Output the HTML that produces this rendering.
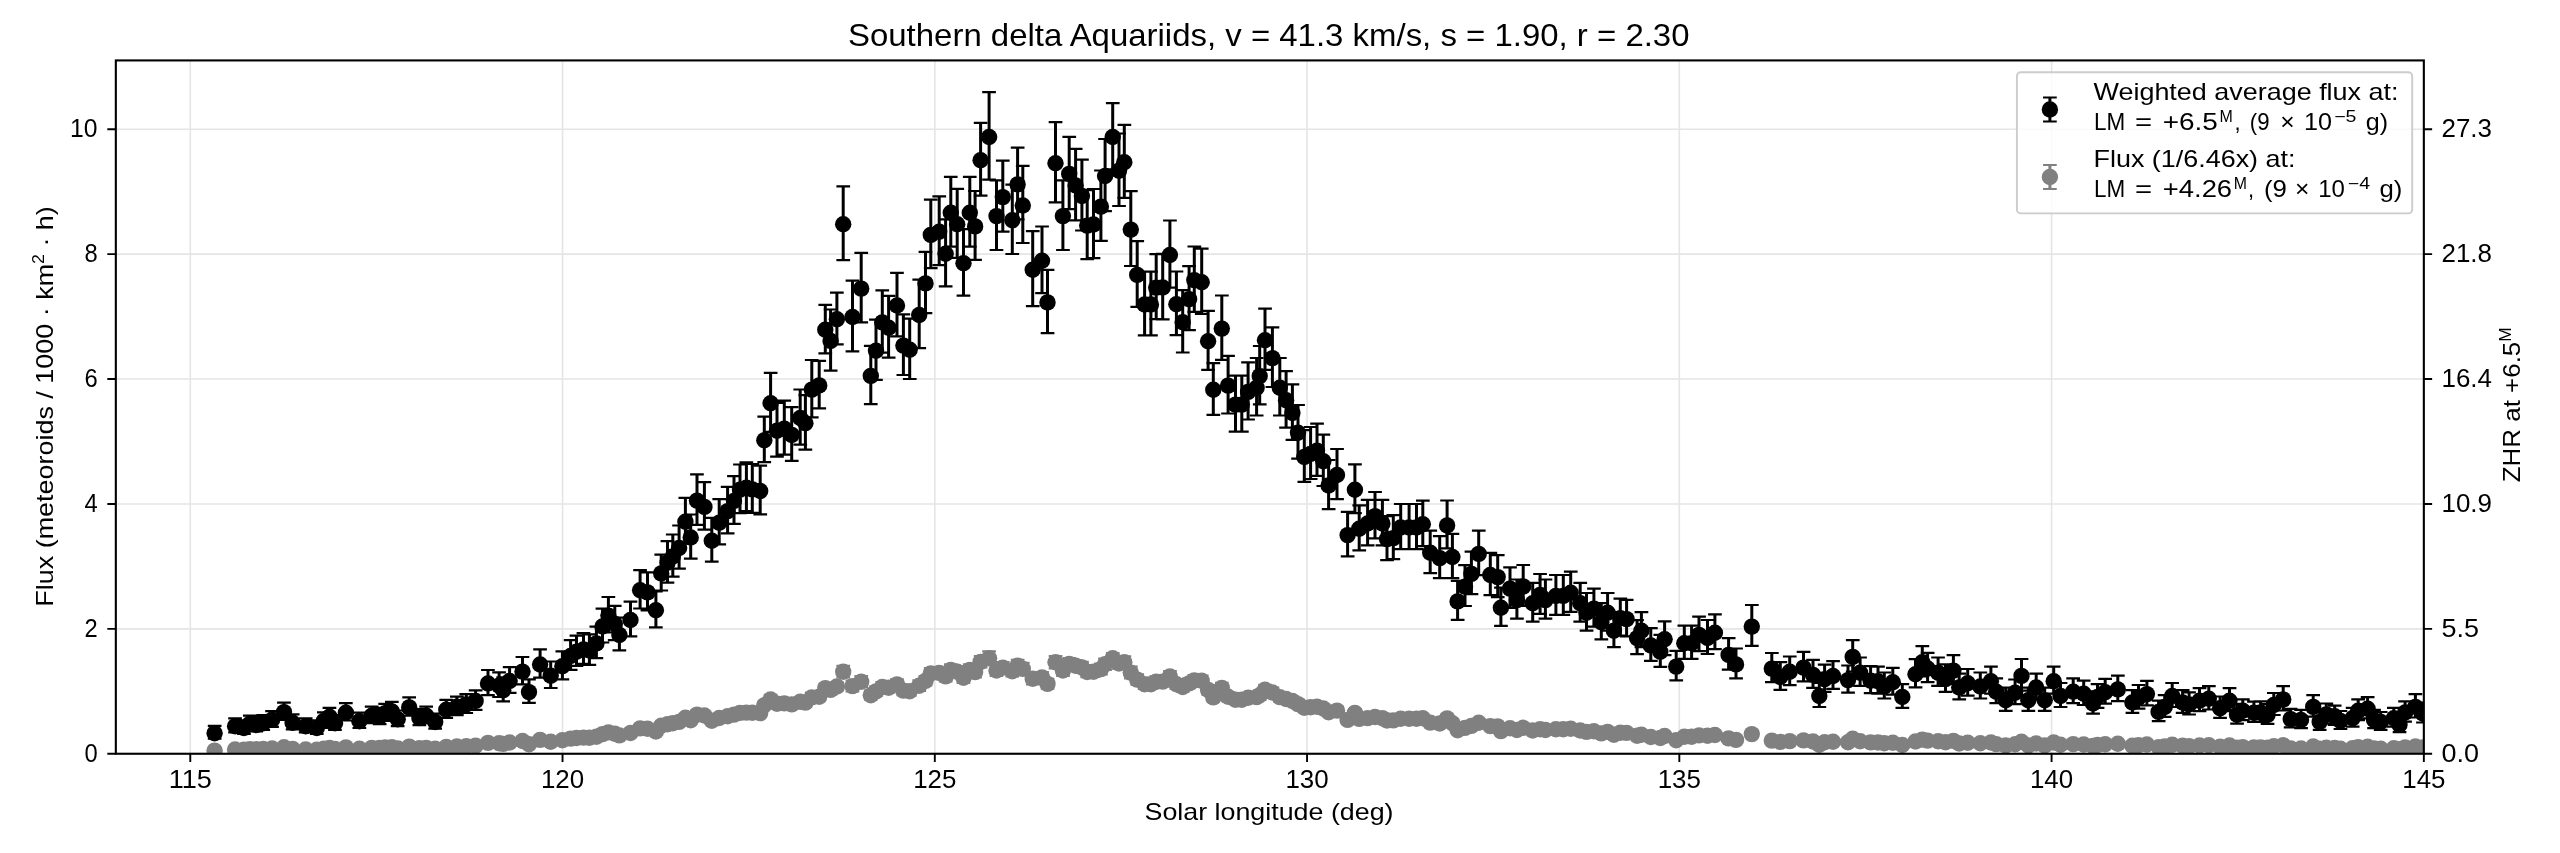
<!DOCTYPE html>
<html><head><meta charset="utf-8"><style>html,body{margin:0;padding:0;background:#fff;overflow:hidden}svg{display:block}text{-webkit-font-smoothing:antialiased}</style></head><body>
<svg width="2560" height="853" viewBox="0 0 2560 853" style="will-change:transform">
<rect width="2560" height="853" fill="#fff"/>
<defs><clipPath id="ax"><rect x="115.83" y="60.43" width="2308.0" height="693.32"/></clipPath></defs>
<path d="M190.28 60.43V753.75M562.54 60.43V753.75M934.80 60.43V753.75M1307.06 60.43V753.75M1679.32 60.43V753.75M2051.58 60.43V753.75M2423.84 60.43V753.75M115.83 753.75H2423.83M115.83 628.85H2423.83M115.83 503.95H2423.83M115.83 379.06H2423.83M115.83 254.16H2423.83M115.83 129.26H2423.83" stroke="#e5e5e5" stroke-width="1.6" fill="none"/>
<g clip-path="url(#ax)"><path d="M214.6 725.9V738.7M235.1 718.3V732.4M243.9 720.3V734.0M249.8 715.7V730.4M256.2 716.9V731.4M263.3 715.0V729.9M272.1 711.1V726.8M284.0 702.6V719.9M292.6 714.4V729.3M305.7 718.3V732.4M316.8 720.3V734.0M323.9 712.4V727.8M329.5 707.8V724.1M335.0 715.0V729.9M345.9 703.2V720.5M359.4 712.7V728.0M371.7 706.6V723.1M379.6 707.8V724.1M385.2 703.9V721.0M391.9 701.9V719.4M397.7 710.5V726.2M409.2 697.4V715.7M419.4 709.1V725.2M426.2 706.6V723.1M435.2 713.6V728.7M446.3 699.9V717.8M456.9 696.7V715.2M466.3 694.1V713.0M475.6 690.3V709.8M488.0 670.0V695.1M499.1 672.3V697.0M503.2 677.4V701.3M509.6 667.2V692.9M522.5 657.0V684.3M529.0 679.4V702.9M540.1 649.4V677.7M550.7 661.5V688.0M562.4 651.3V679.4M570.6 640.2V669.9M576.5 635.6V665.9M583.5 633.2V663.9M589.4 634.3V664.8M596.4 626.7V658.2M602.5 608.6V642.5M608.4 597.0V632.3M614.8 605.9V640.2M619.4 617.7V650.4M630.5 601.7V636.4M640.1 570.2V608.5M647.5 572.4V610.5M655.9 591.4V627.3M661.2 554.6V590.5M667.5 541.1V582.6M672.8 534.5V576.6M679.1 525.5V568.6M685.4 497.9V543.6M690.7 514.5V558.6M697.0 474.3V524.9M704.4 482.2V529.7M711.8 517.8V561.7M719.2 499.1V544.4M727.6 486.9V533.4M734.0 476.2V523.9M740.0 464.5V513.2M746.4 462.3V511.2M752.3 464.0V512.9M760.2 465.7V514.4M764.3 416.7V462.1M770.6 372.8V431.8M777.0 402.8V456.7M784.3 400.6V454.7M791.7 407.1V460.8M800.2 389.5V444.6M805.4 395.1V449.6M811.8 360.0V417.3M819.2 360.9V408.3M825.3 304.8V353.3M830.6 309.5V370.6M836.9 292.6V344.3M843.2 186.4V260.1M852.5 280.6V351.3M861.2 252.8V322.4M870.8 345.8V404.1M876.0 319.6V379.9M882.3 290.3V352.6M888.6 295.8V357.7M897.0 272.8V336.3M903.4 314.3V375.0M909.7 318.7V379.0M919.2 279.7V348.2M925.5 251.9V313.1M930.8 199.7V268.2M939.2 196.4V265.1M945.6 219.3V286.4M950.8 176.8V246.7M957.2 188.8V257.9M963.5 229.1V295.6M969.8 176.8V246.7M975.1 191.0V259.9M980.6 122.8V195.7M989.1 92.2V179.6M996.5 180.3V250.0M1002.8 160.7V231.6M1012.3 184.7V254.0M1017.6 147.6V219.3M1022.8 165.9V243.0M1032.7 231.2V306.1M1042.0 226.5V293.2M1047.5 269.8V333.1M1055.5 122.2V202.3M1062.9 180.3V250.0M1069.2 136.8V209.1M1075.6 148.8V220.3M1081.9 159.6V230.5M1087.2 190.1V259.2M1093.5 189.0V258.1M1100.9 170.5V240.8M1105.1 139.0V211.1M1112.7 103.1V169.3M1119.0 133.5V206.0M1124.3 124.8V197.9M1130.8 191.1V266.0M1137.2 241.1V306.8M1144.6 271.7V335.4M1150.9 271.7V335.4M1156.2 254.2V319.1M1162.7 253.8V319.3M1169.9 220.5V287.6M1176.4 271.5V335.2M1182.7 290.2V352.5M1189.1 266.1V330.2M1194.3 246.5V311.8M1201.7 248.6V313.9M1208.1 310.8V369.9M1213.3 363.1V414.8M1221.8 295.5V359.8M1228.1 355.8V413.5M1235.5 375.6V431.7M1241.8 375.6V431.7M1248.1 362.4V419.5M1256.6 358.0V415.5M1259.7 346.0V404.3M1265.0 308.7V369.8M1272.4 327.3V387.0M1279.8 358.0V415.5M1286.1 371.1V427.6M1292.4 384.3V439.8M1298.0 405.0V458.7M1304.3 430.2V481.9M1310.6 427.0V479.0M1317.0 423.6V475.9M1323.3 434.7V486.0M1328.6 460.0V509.1M1337.0 449.0V499.1M1347.6 511.9V556.4M1354.9 464.4V513.1M1359.2 505.3V550.4M1367.6 499.8V545.3M1375.0 492.0V538.3M1382.4 499.8V545.3M1387.0 516.2V560.1M1393.3 515.1V559.2M1400.7 504.0V549.1M1409.1 504.0V549.1M1416.5 504.0V549.1M1422.8 500.6V546.1M1430.2 530.6V573.1M1439.7 536.1V578.2M1447.1 500.5V548.3M1452.4 533.8V578.2M1457.6 580.9V619.9M1465.0 565.2V606.0M1471.4 551.7V594.1M1478.7 530.6V575.2M1490.3 552.9V595.1M1497.7 555.1V597.1M1500.9 587.6V625.8M1510.0 567.3V607.9M1516.9 579.5V618.7M1523.2 565.0V605.8M1532.7 582.9V621.7M1540.1 574.0V613.8M1545.4 579.5V618.7M1555.9 575.0V614.8M1563.3 575.0V614.8M1570.7 571.6V611.8M1580.2 582.9V621.7M1586.5 593.0V630.6M1593.9 588.6V626.6M1601.3 603.2V639.4M1607.6 593.0V630.6M1613.9 612.2V647.2M1620.3 598.7V635.5M1626.6 599.8V636.4M1637.1 620.1V654.1M1641.4 612.2V647.2M1650.8 628.1V660.9M1660.3 634.8V666.8M1664.6 621.3V655.1M1676.2 650.8V680.4M1684.3 625.7V658.9M1691.6 625.7V658.9M1699.0 616.7V651.1M1707.5 620.0V654.0M1714.9 614.3V649.1M1728.6 638.2V669.6M1736.0 648.5V678.3M1751.8 605.0V645.9M1771.8 653.0V682.2M1780.3 662.2V689.8M1789.7 656.5V685.1M1803.5 651.9V681.3M1813.0 659.9V687.9M1819.3 683.0V707.0M1824.6 664.6V691.8M1833.0 661.1V688.9M1848.0 665.5V692.7M1852.7 640.1V671.7M1860.1 657.5V685.9M1870.6 666.2V693.2M1878.0 666.7V693.7M1884.3 672.5V698.5M1892.8 667.8V694.6M1902.3 684.1V707.9M1915.5 659.2V687.4M1922.3 646.1V676.3M1927.6 652.9V682.1M1938.1 657.5V685.9M1945.5 664.4V691.8M1953.4 655.2V684.0M1959.2 673.6V699.4M1967.7 669.0V695.6M1980.3 672.5V698.5M1990.9 666.7V693.7M1996.2 678.3V703.2M2005.7 687.6V710.8M2015.1 679.5V704.1M2021.5 659.0V690.6M2028.3 687.6V710.8M2036.2 673.6V699.4M2044.7 687.6V710.8M2053.7 666.7V693.7M2060.5 683.0V707.0M2073.2 678.3V703.2M2083.7 680.6V705.0M2093.0 691.3V713.7M2097.5 684.1V707.9M2105.2 678.8V703.6M2117.8 675.7V701.1M2132.4 690.2V712.8M2138.5 685.0V708.6M2146.9 680.9V705.3M2158.6 700.7V721.1M2164.7 695.2V716.8M2172.2 683.0V707.0M2182.6 690.2V712.8M2189.1 692.3V714.5M2199.5 688.2V711.2M2208.8 686.1V709.5M2220.1 696.5V717.9M2229.5 688.2V711.2M2237.0 703.8V723.6M2242.8 699.3V720.1M2253.9 701.6V721.8M2260.6 701.3V721.7M2267.5 704.2V723.8M2273.8 693.0V715.0M2283.2 686.2V710.5M2290.7 708.8V727.4M2301.0 709.8V728.2M2313.2 695.1V716.7M2319.7 712.0V729.8M2326.3 703.5V723.3M2334.7 705.6V725.0M2340.4 711.0V729.0M2352.6 707.8V726.6M2358.2 699.3V720.1M2367.6 697.2V718.4M2374.1 709.8V728.2M2380.7 712.0V729.8M2393.8 707.8V726.6M2399.5 715.2V732.2M2405.1 701.3V721.7M2415.4 694.1V717.5M2422.9 702.5V722.5" stroke="#000" stroke-width="3" fill="none"/><path d="M207.8 725.9h13.7M207.8 738.7h13.7M228.2 718.3h13.7M228.2 732.4h13.7M237.1 720.3h13.7M237.1 734.0h13.7M243.0 715.7h13.7M243.0 730.4h13.7M249.3 716.9h13.7M249.3 731.4h13.7M256.4 715.0h13.7M256.4 729.9h13.7M265.2 711.1h13.7M265.2 726.8h13.7M277.1 702.6h13.7M277.1 719.9h13.7M285.8 714.4h13.7M285.8 729.3h13.7M298.8 718.3h13.7M298.8 732.4h13.7M309.9 720.3h13.7M309.9 734.0h13.7M317.0 712.4h13.7M317.0 727.8h13.7M322.6 707.8h13.7M322.6 724.1h13.7M328.1 715.0h13.7M328.1 729.9h13.7M339.0 703.2h13.7M339.0 720.5h13.7M352.5 712.7h13.7M352.5 728.0h13.7M364.8 706.6h13.7M364.8 723.1h13.7M372.8 707.8h13.7M372.8 724.1h13.7M378.3 703.9h13.7M378.3 721.0h13.7M385.0 701.9h13.7M385.0 719.4h13.7M390.8 710.5h13.7M390.8 726.2h13.7M402.3 697.4h13.7M402.3 715.7h13.7M412.5 709.1h13.7M412.5 725.2h13.7M419.3 706.6h13.7M419.3 723.1h13.7M428.3 713.6h13.7M428.3 728.7h13.7M439.4 699.9h13.7M439.4 717.8h13.7M450.0 696.7h13.7M450.0 715.2h13.7M459.4 694.1h13.7M459.4 713.0h13.7M468.8 690.3h13.7M468.8 709.8h13.7M481.1 670.0h13.7M481.1 695.1h13.7M492.2 672.3h13.7M492.2 697.0h13.7M496.3 677.4h13.7M496.3 701.3h13.7M502.8 667.2h13.7M502.8 692.9h13.7M515.6 657.0h13.7M515.6 684.3h13.7M522.1 679.4h13.7M522.1 702.9h13.7M533.2 649.4h13.7M533.2 677.7h13.7M543.9 661.5h13.7M543.9 688.0h13.7M555.5 651.3h13.7M555.5 679.4h13.7M563.8 640.2h13.7M563.8 669.9h13.7M569.6 635.6h13.7M569.6 665.9h13.7M576.6 633.2h13.7M576.6 663.9h13.7M582.5 634.3h13.7M582.5 664.8h13.7M589.5 626.7h13.7M589.5 658.2h13.7M595.6 608.6h13.7M595.6 642.5h13.7M601.5 597.0h13.7M601.5 632.3h13.7M607.9 605.9h13.7M607.9 640.2h13.7M612.5 617.7h13.7M612.5 650.4h13.7M623.6 601.7h13.7M623.6 636.4h13.7M633.2 570.2h13.7M633.2 608.5h13.7M640.6 572.4h13.7M640.6 610.5h13.7M649.0 591.4h13.7M649.0 627.3h13.7M654.4 554.6h13.7M654.4 590.5h13.7M660.6 541.1h13.7M660.6 582.6h13.7M665.9 534.5h13.7M665.9 576.6h13.7M672.2 525.5h13.7M672.2 568.6h13.7M678.5 497.9h13.7M678.5 543.6h13.7M683.9 514.5h13.7M683.9 558.6h13.7M690.1 474.3h13.7M690.1 524.9h13.7M697.5 482.2h13.7M697.5 529.7h13.7M704.9 517.8h13.7M704.9 561.7h13.7M712.4 499.1h13.7M712.4 544.4h13.7M720.8 486.9h13.7M720.8 533.4h13.7M727.1 476.2h13.7M727.1 523.9h13.7M733.1 464.5h13.7M733.1 513.2h13.7M739.5 462.3h13.7M739.5 511.2h13.7M745.4 464.0h13.7M745.4 512.9h13.7M753.4 465.7h13.7M753.4 514.4h13.7M757.4 416.7h13.7M757.4 462.1h13.7M763.8 372.8h13.7M763.8 431.8h13.7M770.1 402.8h13.7M770.1 456.7h13.7M777.4 400.6h13.7M777.4 454.7h13.7M784.9 407.1h13.7M784.9 460.8h13.7M793.4 389.5h13.7M793.4 444.6h13.7M798.5 395.1h13.7M798.5 449.6h13.7M804.9 360.0h13.7M804.9 417.3h13.7M812.4 360.9h13.7M812.4 408.3h13.7M818.4 304.8h13.7M818.4 353.3h13.7M823.8 309.5h13.7M823.8 370.6h13.7M830.0 292.6h13.7M830.0 344.3h13.7M836.4 186.4h13.7M836.4 260.1h13.7M845.6 280.6h13.7M845.6 351.3h13.7M854.4 252.8h13.7M854.4 322.4h13.7M863.9 345.8h13.7M863.9 404.1h13.7M869.1 319.6h13.7M869.1 379.9h13.7M875.4 290.3h13.7M875.4 352.6h13.7M881.8 295.8h13.7M881.8 357.7h13.7M890.1 272.8h13.7M890.1 336.3h13.7M896.5 314.3h13.7M896.5 375.0h13.7M902.9 318.7h13.7M902.9 379.0h13.7M912.4 279.7h13.7M912.4 348.2h13.7M918.6 251.9h13.7M918.6 313.1h13.7M923.9 199.7h13.7M923.9 268.2h13.7M932.4 196.4h13.7M932.4 265.1h13.7M938.8 219.3h13.7M938.8 286.4h13.7M943.9 176.8h13.7M943.9 246.7h13.7M950.4 188.8h13.7M950.4 257.9h13.7M956.6 229.1h13.7M956.6 295.6h13.7M962.9 176.8h13.7M962.9 246.7h13.7M968.2 191.0h13.7M968.2 259.9h13.7M973.8 122.8h13.7M973.8 195.7h13.7M982.2 92.2h13.7M982.2 179.6h13.7M989.6 180.3h13.7M989.6 250.0h13.7M995.9 160.7h13.7M995.9 231.6h13.7M1005.4 184.7h13.7M1005.4 254.0h13.7M1010.8 147.6h13.7M1010.8 219.3h13.7M1015.9 165.9h13.7M1015.9 243.0h13.7M1025.9 231.2h13.7M1025.9 306.1h13.7M1035.2 226.5h13.7M1035.2 293.2h13.7M1040.7 269.8h13.7M1040.7 333.1h13.7M1048.7 122.2h13.7M1048.7 202.3h13.7M1056.1 180.3h13.7M1056.1 250.0h13.7M1062.4 136.8h13.7M1062.4 209.1h13.7M1068.8 148.8h13.7M1068.8 220.3h13.7M1075.1 159.6h13.7M1075.1 230.5h13.7M1080.4 190.1h13.7M1080.4 259.2h13.7M1086.7 189.0h13.7M1086.7 258.1h13.7M1094.1 170.5h13.7M1094.1 240.8h13.7M1098.2 139.0h13.7M1098.2 211.1h13.7M1105.9 103.1h13.7M1105.9 169.3h13.7M1112.2 133.5h13.7M1112.2 206.0h13.7M1117.5 124.8h13.7M1117.5 197.9h13.7M1124.0 191.1h13.7M1124.0 266.0h13.7M1130.4 241.1h13.7M1130.4 306.8h13.7M1137.8 271.7h13.7M1137.8 335.4h13.7M1144.1 271.7h13.7M1144.1 335.4h13.7M1149.4 254.2h13.7M1149.4 319.1h13.7M1155.9 253.8h13.7M1155.9 319.3h13.7M1163.1 220.5h13.7M1163.1 287.6h13.7M1169.6 271.5h13.7M1169.6 335.2h13.7M1175.9 290.2h13.7M1175.9 352.5h13.7M1182.2 266.1h13.7M1182.2 330.2h13.7M1187.5 246.5h13.7M1187.5 311.8h13.7M1194.9 248.6h13.7M1194.9 313.9h13.7M1201.2 310.8h13.7M1201.2 369.9h13.7M1206.5 363.1h13.7M1206.5 414.8h13.7M1215.0 295.5h13.7M1215.0 359.8h13.7M1221.2 355.8h13.7M1221.2 413.5h13.7M1228.7 375.6h13.7M1228.7 431.7h13.7M1235.0 375.6h13.7M1235.0 431.7h13.7M1241.2 362.4h13.7M1241.2 419.5h13.7M1249.8 358.0h13.7M1249.8 415.5h13.7M1252.9 346.0h13.7M1252.9 404.3h13.7M1258.2 308.7h13.7M1258.2 369.8h13.7M1265.6 327.3h13.7M1265.6 387.0h13.7M1273.0 358.0h13.7M1273.0 415.5h13.7M1279.2 371.1h13.7M1279.2 427.6h13.7M1285.6 384.3h13.7M1285.6 439.8h13.7M1291.2 405.0h13.7M1291.2 458.7h13.7M1297.5 430.2h13.7M1297.5 481.9h13.7M1303.8 427.0h13.7M1303.8 479.0h13.7M1310.2 423.6h13.7M1310.2 475.9h13.7M1316.5 434.7h13.7M1316.5 486.0h13.7M1321.8 460.0h13.7M1321.8 509.1h13.7M1330.2 449.0h13.7M1330.2 499.1h13.7M1340.8 511.9h13.7M1340.8 556.4h13.7M1348.1 464.4h13.7M1348.1 513.1h13.7M1352.4 505.3h13.7M1352.4 550.4h13.7M1360.8 499.8h13.7M1360.8 545.3h13.7M1368.2 492.0h13.7M1368.2 538.3h13.7M1375.6 499.8h13.7M1375.6 545.3h13.7M1380.2 516.2h13.7M1380.2 560.1h13.7M1386.5 515.1h13.7M1386.5 559.2h13.7M1393.9 504.0h13.7M1393.9 549.1h13.7M1402.2 504.0h13.7M1402.2 549.1h13.7M1409.7 504.0h13.7M1409.7 549.1h13.7M1416.0 500.6h13.7M1416.0 546.1h13.7M1423.4 530.6h13.7M1423.4 573.1h13.7M1432.9 536.1h13.7M1432.9 578.2h13.7M1440.2 500.5h13.7M1440.2 548.3h13.7M1445.6 533.8h13.7M1445.6 578.2h13.7M1450.8 580.9h13.7M1450.8 619.9h13.7M1458.2 565.2h13.7M1458.2 606.0h13.7M1464.6 551.7h13.7M1464.6 594.1h13.7M1471.9 530.6h13.7M1471.9 575.2h13.7M1483.5 552.9h13.7M1483.5 595.1h13.7M1490.9 555.1h13.7M1490.9 597.1h13.7M1494.1 587.6h13.7M1494.1 625.8h13.7M1503.2 567.3h13.7M1503.2 607.9h13.7M1510.1 579.5h13.7M1510.1 618.7h13.7M1516.4 565.0h13.7M1516.4 605.8h13.7M1525.9 582.9h13.7M1525.9 621.7h13.7M1533.2 574.0h13.7M1533.2 613.8h13.7M1538.6 579.5h13.7M1538.6 618.7h13.7M1549.1 575.0h13.7M1549.1 614.8h13.7M1556.5 575.0h13.7M1556.5 614.8h13.7M1563.9 571.6h13.7M1563.9 611.8h13.7M1573.4 582.9h13.7M1573.4 621.7h13.7M1579.7 593.0h13.7M1579.7 630.6h13.7M1587.1 588.6h13.7M1587.1 626.6h13.7M1594.5 603.2h13.7M1594.5 639.4h13.7M1600.8 593.0h13.7M1600.8 630.6h13.7M1607.1 612.2h13.7M1607.1 647.2h13.7M1613.5 598.7h13.7M1613.5 635.5h13.7M1619.8 599.8h13.7M1619.8 636.4h13.7M1630.2 620.1h13.7M1630.2 654.1h13.7M1634.6 612.2h13.7M1634.6 647.2h13.7M1644.0 628.1h13.7M1644.0 660.9h13.7M1653.5 634.8h13.7M1653.5 666.8h13.7M1657.8 621.3h13.7M1657.8 655.1h13.7M1669.4 650.8h13.7M1669.4 680.4h13.7M1677.5 625.7h13.7M1677.5 658.9h13.7M1684.8 625.7h13.7M1684.8 658.9h13.7M1692.2 616.7h13.7M1692.2 651.1h13.7M1700.7 620.0h13.7M1700.7 654.0h13.7M1708.1 614.3h13.7M1708.1 649.1h13.7M1721.8 638.2h13.7M1721.8 669.6h13.7M1729.2 648.5h13.7M1729.2 678.3h13.7M1745.0 605.0h13.7M1745.0 645.9h13.7M1765.0 653.0h13.7M1765.0 682.2h13.7M1773.5 662.2h13.7M1773.5 689.8h13.7M1782.9 656.5h13.7M1782.9 685.1h13.7M1796.7 651.9h13.7M1796.7 681.3h13.7M1806.2 659.9h13.7M1806.2 687.9h13.7M1812.5 683.0h13.7M1812.5 707.0h13.7M1817.8 664.6h13.7M1817.8 691.8h13.7M1826.2 661.1h13.7M1826.2 688.9h13.7M1841.2 665.5h13.7M1841.2 692.7h13.7M1845.9 640.1h13.7M1845.9 671.7h13.7M1853.2 657.5h13.7M1853.2 685.9h13.7M1863.8 666.2h13.7M1863.8 693.2h13.7M1871.2 666.7h13.7M1871.2 693.7h13.7M1877.5 672.5h13.7M1877.5 698.5h13.7M1886.0 667.8h13.7M1886.0 694.6h13.7M1895.5 684.1h13.7M1895.5 707.9h13.7M1908.7 659.2h13.7M1908.7 687.4h13.7M1915.5 646.1h13.7M1915.5 676.3h13.7M1920.8 652.9h13.7M1920.8 682.1h13.7M1931.2 657.5h13.7M1931.2 685.9h13.7M1938.7 664.4h13.7M1938.7 691.8h13.7M1946.6 655.2h13.7M1946.6 684.0h13.7M1952.4 673.6h13.7M1952.4 699.4h13.7M1960.9 669.0h13.7M1960.9 695.6h13.7M1973.5 672.5h13.7M1973.5 698.5h13.7M1984.1 666.7h13.7M1984.1 693.7h13.7M1989.4 678.3h13.7M1989.4 703.2h13.7M1998.9 687.6h13.7M1998.9 710.8h13.7M2008.2 679.5h13.7M2008.2 704.1h13.7M2014.7 659.0h13.7M2014.7 690.6h13.7M2021.5 687.6h13.7M2021.5 710.8h13.7M2029.4 673.6h13.7M2029.4 699.4h13.7M2037.9 687.6h13.7M2037.9 710.8h13.7M2046.8 666.7h13.7M2046.8 693.7h13.7M2053.7 683.0h13.7M2053.7 707.0h13.7M2066.3 678.3h13.7M2066.3 703.2h13.7M2076.8 680.6h13.7M2076.8 705.0h13.7M2086.2 691.3h13.7M2086.2 713.7h13.7M2090.7 684.1h13.7M2090.7 707.9h13.7M2098.3 678.8h13.7M2098.3 703.6h13.7M2111.0 675.7h13.7M2111.0 701.1h13.7M2125.6 690.2h13.7M2125.6 712.8h13.7M2131.7 685.0h13.7M2131.7 708.6h13.7M2140.1 680.9h13.7M2140.1 705.3h13.7M2151.8 700.7h13.7M2151.8 721.1h13.7M2157.8 695.2h13.7M2157.8 716.8h13.7M2165.3 683.0h13.7M2165.3 707.0h13.7M2175.8 690.2h13.7M2175.8 712.8h13.7M2182.2 692.3h13.7M2182.2 714.5h13.7M2192.7 688.2h13.7M2192.7 711.2h13.7M2202.0 686.1h13.7M2202.0 709.5h13.7M2213.2 696.5h13.7M2213.2 717.9h13.7M2222.7 688.2h13.7M2222.7 711.2h13.7M2230.2 703.8h13.7M2230.2 723.6h13.7M2236.0 699.3h13.7M2236.0 720.1h13.7M2247.1 701.6h13.7M2247.1 721.8h13.7M2253.8 701.3h13.7M2253.8 721.7h13.7M2260.7 704.2h13.7M2260.7 723.8h13.7M2267.0 693.0h13.7M2267.0 715.0h13.7M2276.3 686.2h13.7M2276.3 710.5h13.7M2283.8 708.8h13.7M2283.8 727.4h13.7M2294.2 709.8h13.7M2294.2 728.2h13.7M2306.3 695.1h13.7M2306.3 716.7h13.7M2312.8 712.0h13.7M2312.8 729.8h13.7M2319.5 703.5h13.7M2319.5 723.3h13.7M2327.8 705.6h13.7M2327.8 725.0h13.7M2333.6 711.0h13.7M2333.6 729.0h13.7M2345.8 707.8h13.7M2345.8 726.6h13.7M2351.3 699.3h13.7M2351.3 720.1h13.7M2360.8 697.2h13.7M2360.8 718.4h13.7M2367.2 709.8h13.7M2367.2 728.2h13.7M2373.8 712.0h13.7M2373.8 729.8h13.7M2387.0 707.8h13.7M2387.0 726.6h13.7M2392.7 715.2h13.7M2392.7 732.2h13.7M2398.2 701.3h13.7M2398.2 721.7h13.7M2408.6 694.1h13.7M2408.6 717.5h13.7M2416.1 702.5h13.7M2416.1 722.5h13.7" stroke="#000" stroke-width="2.2" fill="none"/><g fill="#000"><circle cx="214.6" cy="733.2" r="8.2"/><circle cx="235.1" cy="726.2" r="8.2"/><circle cx="243.9" cy="728.0" r="8.2"/><circle cx="249.8" cy="723.9" r="8.2"/><circle cx="256.2" cy="725.0" r="8.2"/><circle cx="263.3" cy="723.3" r="8.2"/><circle cx="272.1" cy="719.8" r="8.2"/><circle cx="284.0" cy="712.1" r="8.2"/><circle cx="292.6" cy="722.7" r="8.2"/><circle cx="305.7" cy="726.2" r="8.2"/><circle cx="316.8" cy="728.0" r="8.2"/><circle cx="323.9" cy="720.9" r="8.2"/><circle cx="329.5" cy="716.8" r="8.2"/><circle cx="335.0" cy="723.3" r="8.2"/><circle cx="345.9" cy="712.7" r="8.2"/><circle cx="359.4" cy="721.2" r="8.2"/><circle cx="371.7" cy="715.7" r="8.2"/><circle cx="379.6" cy="716.8" r="8.2"/><circle cx="385.2" cy="713.3" r="8.2"/><circle cx="391.9" cy="711.5" r="8.2"/><circle cx="397.7" cy="719.2" r="8.2"/><circle cx="409.2" cy="707.4" r="8.2"/><circle cx="419.4" cy="718.0" r="8.2"/><circle cx="426.2" cy="715.7" r="8.2"/><circle cx="435.2" cy="722.0" r="8.2"/><circle cx="446.3" cy="709.7" r="8.2"/><circle cx="456.9" cy="706.8" r="8.2"/><circle cx="466.3" cy="704.4" r="8.2"/><circle cx="475.6" cy="700.9" r="8.2"/><circle cx="488.0" cy="683.5" r="8.2"/><circle cx="499.1" cy="685.6" r="8.2"/><circle cx="503.2" cy="690.3" r="8.2"/><circle cx="509.6" cy="681.0" r="8.2"/><circle cx="522.5" cy="671.6" r="8.2"/><circle cx="529.0" cy="692.1" r="8.2"/><circle cx="540.1" cy="664.5" r="8.2"/><circle cx="550.7" cy="675.7" r="8.2"/><circle cx="562.4" cy="666.3" r="8.2"/><circle cx="570.6" cy="656.0" r="8.2"/><circle cx="576.5" cy="651.7" r="8.2"/><circle cx="583.5" cy="649.5" r="8.2"/><circle cx="589.4" cy="650.5" r="8.2"/><circle cx="596.4" cy="643.4" r="8.2"/><circle cx="602.5" cy="626.5" r="8.2"/><circle cx="608.4" cy="615.6" r="8.2"/><circle cx="614.8" cy="624.0" r="8.2"/><circle cx="619.4" cy="635.0" r="8.2"/><circle cx="630.5" cy="620.0" r="8.2"/><circle cx="640.1" cy="590.3" r="8.2"/><circle cx="647.5" cy="592.4" r="8.2"/><circle cx="655.9" cy="610.3" r="8.2"/><circle cx="661.2" cy="573.4" r="8.2"/><circle cx="667.5" cy="562.8" r="8.2"/><circle cx="672.8" cy="556.5" r="8.2"/><circle cx="679.1" cy="548.0" r="8.2"/><circle cx="685.4" cy="521.7" r="8.2"/><circle cx="690.7" cy="537.5" r="8.2"/><circle cx="697.0" cy="500.6" r="8.2"/><circle cx="704.4" cy="506.9" r="8.2"/><circle cx="711.8" cy="540.7" r="8.2"/><circle cx="719.2" cy="522.7" r="8.2"/><circle cx="727.6" cy="511.1" r="8.2"/><circle cx="734.0" cy="501.0" r="8.2"/><circle cx="740.0" cy="489.8" r="8.2"/><circle cx="746.4" cy="487.7" r="8.2"/><circle cx="752.3" cy="489.4" r="8.2"/><circle cx="760.2" cy="491.0" r="8.2"/><circle cx="764.3" cy="440.2" r="8.2"/><circle cx="770.6" cy="403.3" r="8.2"/><circle cx="777.0" cy="430.7" r="8.2"/><circle cx="784.3" cy="428.6" r="8.2"/><circle cx="791.7" cy="434.9" r="8.2"/><circle cx="800.2" cy="418.0" r="8.2"/><circle cx="805.4" cy="423.3" r="8.2"/><circle cx="811.8" cy="389.6" r="8.2"/><circle cx="819.2" cy="385.4" r="8.2"/><circle cx="825.3" cy="329.8" r="8.2"/><circle cx="830.6" cy="341.0" r="8.2"/><circle cx="836.9" cy="319.2" r="8.2"/><circle cx="843.2" cy="224.3" r="8.2"/><circle cx="852.5" cy="317.0" r="8.2"/><circle cx="861.2" cy="288.6" r="8.2"/><circle cx="870.8" cy="375.9" r="8.2"/><circle cx="876.0" cy="350.7" r="8.2"/><circle cx="882.3" cy="322.4" r="8.2"/><circle cx="888.6" cy="327.7" r="8.2"/><circle cx="897.0" cy="305.5" r="8.2"/><circle cx="903.4" cy="345.6" r="8.2"/><circle cx="909.7" cy="349.8" r="8.2"/><circle cx="919.2" cy="315.0" r="8.2"/><circle cx="925.5" cy="283.4" r="8.2"/><circle cx="930.8" cy="234.9" r="8.2"/><circle cx="939.2" cy="231.7" r="8.2"/><circle cx="945.6" cy="253.8" r="8.2"/><circle cx="950.8" cy="212.7" r="8.2"/><circle cx="957.2" cy="224.3" r="8.2"/><circle cx="963.5" cy="263.3" r="8.2"/><circle cx="969.8" cy="212.7" r="8.2"/><circle cx="975.1" cy="226.4" r="8.2"/><circle cx="980.6" cy="160.2" r="8.2"/><circle cx="989.1" cy="137.0" r="8.2"/><circle cx="996.5" cy="216.1" r="8.2"/><circle cx="1002.8" cy="197.1" r="8.2"/><circle cx="1012.3" cy="220.3" r="8.2"/><circle cx="1017.6" cy="184.4" r="8.2"/><circle cx="1022.8" cy="205.5" r="8.2"/><circle cx="1032.7" cy="269.7" r="8.2"/><circle cx="1042.0" cy="260.8" r="8.2"/><circle cx="1047.5" cy="302.4" r="8.2"/><circle cx="1055.5" cy="163.3" r="8.2"/><circle cx="1062.9" cy="216.1" r="8.2"/><circle cx="1069.2" cy="173.9" r="8.2"/><circle cx="1075.6" cy="185.5" r="8.2"/><circle cx="1081.9" cy="196.0" r="8.2"/><circle cx="1087.2" cy="225.6" r="8.2"/><circle cx="1093.5" cy="224.5" r="8.2"/><circle cx="1100.9" cy="206.6" r="8.2"/><circle cx="1105.1" cy="176.0" r="8.2"/><circle cx="1112.7" cy="137.0" r="8.2"/><circle cx="1119.0" cy="170.7" r="8.2"/><circle cx="1124.3" cy="162.3" r="8.2"/><circle cx="1130.8" cy="229.6" r="8.2"/><circle cx="1137.2" cy="274.9" r="8.2"/><circle cx="1144.6" cy="304.5" r="8.2"/><circle cx="1150.9" cy="304.5" r="8.2"/><circle cx="1156.2" cy="287.6" r="8.2"/><circle cx="1162.7" cy="287.5" r="8.2"/><circle cx="1169.9" cy="255.0" r="8.2"/><circle cx="1176.4" cy="304.3" r="8.2"/><circle cx="1182.7" cy="322.3" r="8.2"/><circle cx="1189.1" cy="299.1" r="8.2"/><circle cx="1194.3" cy="280.1" r="8.2"/><circle cx="1201.7" cy="282.2" r="8.2"/><circle cx="1208.1" cy="341.3" r="8.2"/><circle cx="1213.3" cy="389.8" r="8.2"/><circle cx="1221.8" cy="328.6" r="8.2"/><circle cx="1228.1" cy="385.6" r="8.2"/><circle cx="1235.5" cy="404.6" r="8.2"/><circle cx="1241.8" cy="404.6" r="8.2"/><circle cx="1248.1" cy="391.9" r="8.2"/><circle cx="1256.6" cy="387.7" r="8.2"/><circle cx="1259.7" cy="376.1" r="8.2"/><circle cx="1265.0" cy="340.2" r="8.2"/><circle cx="1272.4" cy="358.1" r="8.2"/><circle cx="1279.8" cy="387.7" r="8.2"/><circle cx="1286.1" cy="400.3" r="8.2"/><circle cx="1292.4" cy="413.0" r="8.2"/><circle cx="1298.0" cy="432.8" r="8.2"/><circle cx="1304.3" cy="457.0" r="8.2"/><circle cx="1310.6" cy="453.9" r="8.2"/><circle cx="1317.0" cy="450.7" r="8.2"/><circle cx="1323.3" cy="461.3" r="8.2"/><circle cx="1328.6" cy="485.5" r="8.2"/><circle cx="1337.0" cy="475.0" r="8.2"/><circle cx="1347.6" cy="535.1" r="8.2"/><circle cx="1354.9" cy="489.7" r="8.2"/><circle cx="1359.2" cy="528.8" r="8.2"/><circle cx="1367.6" cy="523.5" r="8.2"/><circle cx="1375.0" cy="516.1" r="8.2"/><circle cx="1382.4" cy="523.5" r="8.2"/><circle cx="1387.0" cy="539.1" r="8.2"/><circle cx="1393.3" cy="538.1" r="8.2"/><circle cx="1400.7" cy="527.5" r="8.2"/><circle cx="1409.1" cy="527.5" r="8.2"/><circle cx="1416.5" cy="527.5" r="8.2"/><circle cx="1422.8" cy="524.3" r="8.2"/><circle cx="1430.2" cy="552.8" r="8.2"/><circle cx="1439.7" cy="558.1" r="8.2"/><circle cx="1447.1" cy="525.4" r="8.2"/><circle cx="1452.4" cy="557.0" r="8.2"/><circle cx="1457.6" cy="601.4" r="8.2"/><circle cx="1465.0" cy="586.6" r="8.2"/><circle cx="1471.4" cy="573.9" r="8.2"/><circle cx="1478.7" cy="553.9" r="8.2"/><circle cx="1490.3" cy="575.0" r="8.2"/><circle cx="1497.7" cy="577.1" r="8.2"/><circle cx="1500.9" cy="607.7" r="8.2"/><circle cx="1510.0" cy="588.6" r="8.2"/><circle cx="1516.9" cy="600.1" r="8.2"/><circle cx="1523.2" cy="586.4" r="8.2"/><circle cx="1532.7" cy="603.3" r="8.2"/><circle cx="1540.1" cy="594.9" r="8.2"/><circle cx="1545.4" cy="600.1" r="8.2"/><circle cx="1555.9" cy="595.9" r="8.2"/><circle cx="1563.3" cy="595.9" r="8.2"/><circle cx="1570.7" cy="592.7" r="8.2"/><circle cx="1580.2" cy="603.3" r="8.2"/><circle cx="1586.5" cy="612.8" r="8.2"/><circle cx="1593.9" cy="608.6" r="8.2"/><circle cx="1601.3" cy="622.3" r="8.2"/><circle cx="1607.6" cy="612.8" r="8.2"/><circle cx="1613.9" cy="630.7" r="8.2"/><circle cx="1620.3" cy="618.1" r="8.2"/><circle cx="1626.6" cy="619.1" r="8.2"/><circle cx="1637.1" cy="638.1" r="8.2"/><circle cx="1641.4" cy="630.7" r="8.2"/><circle cx="1650.8" cy="645.5" r="8.2"/><circle cx="1660.3" cy="651.8" r="8.2"/><circle cx="1664.6" cy="639.2" r="8.2"/><circle cx="1676.2" cy="666.6" r="8.2"/><circle cx="1684.3" cy="643.3" r="8.2"/><circle cx="1691.6" cy="643.3" r="8.2"/><circle cx="1699.0" cy="634.9" r="8.2"/><circle cx="1707.5" cy="638.0" r="8.2"/><circle cx="1714.9" cy="632.7" r="8.2"/><circle cx="1728.6" cy="654.9" r="8.2"/><circle cx="1736.0" cy="664.4" r="8.2"/><circle cx="1751.8" cy="626.6" r="8.2"/><circle cx="1771.8" cy="668.6" r="8.2"/><circle cx="1780.3" cy="677.0" r="8.2"/><circle cx="1789.7" cy="671.8" r="8.2"/><circle cx="1803.5" cy="667.6" r="8.2"/><circle cx="1813.0" cy="674.9" r="8.2"/><circle cx="1819.3" cy="696.0" r="8.2"/><circle cx="1824.6" cy="679.2" r="8.2"/><circle cx="1833.0" cy="676.0" r="8.2"/><circle cx="1848.0" cy="680.1" r="8.2"/><circle cx="1852.7" cy="656.9" r="8.2"/><circle cx="1860.1" cy="672.7" r="8.2"/><circle cx="1870.6" cy="680.7" r="8.2"/><circle cx="1878.0" cy="681.2" r="8.2"/><circle cx="1884.3" cy="686.5" r="8.2"/><circle cx="1892.8" cy="682.2" r="8.2"/><circle cx="1902.3" cy="697.0" r="8.2"/><circle cx="1915.5" cy="674.3" r="8.2"/><circle cx="1922.3" cy="662.2" r="8.2"/><circle cx="1927.6" cy="668.5" r="8.2"/><circle cx="1938.1" cy="672.7" r="8.2"/><circle cx="1945.5" cy="679.1" r="8.2"/><circle cx="1953.4" cy="670.6" r="8.2"/><circle cx="1959.2" cy="687.5" r="8.2"/><circle cx="1967.7" cy="683.3" r="8.2"/><circle cx="1980.3" cy="686.5" r="8.2"/><circle cx="1990.9" cy="681.2" r="8.2"/><circle cx="1996.2" cy="691.7" r="8.2"/><circle cx="2005.7" cy="700.2" r="8.2"/><circle cx="2015.1" cy="692.8" r="8.2"/><circle cx="2021.5" cy="675.9" r="8.2"/><circle cx="2028.3" cy="700.2" r="8.2"/><circle cx="2036.2" cy="687.5" r="8.2"/><circle cx="2044.7" cy="700.2" r="8.2"/><circle cx="2053.7" cy="681.2" r="8.2"/><circle cx="2060.5" cy="696.0" r="8.2"/><circle cx="2073.2" cy="691.7" r="8.2"/><circle cx="2083.7" cy="693.8" r="8.2"/><circle cx="2093.0" cy="703.5" r="8.2"/><circle cx="2097.5" cy="697.0" r="8.2"/><circle cx="2105.2" cy="692.2" r="8.2"/><circle cx="2117.8" cy="689.4" r="8.2"/><circle cx="2132.4" cy="702.5" r="8.2"/><circle cx="2138.5" cy="697.8" r="8.2"/><circle cx="2146.9" cy="694.1" r="8.2"/><circle cx="2158.6" cy="711.9" r="8.2"/><circle cx="2164.7" cy="707.0" r="8.2"/><circle cx="2172.2" cy="696.0" r="8.2"/><circle cx="2182.6" cy="702.5" r="8.2"/><circle cx="2189.1" cy="704.4" r="8.2"/><circle cx="2199.5" cy="700.7" r="8.2"/><circle cx="2208.8" cy="698.8" r="8.2"/><circle cx="2220.1" cy="708.2" r="8.2"/><circle cx="2229.5" cy="700.7" r="8.2"/><circle cx="2237.0" cy="714.7" r="8.2"/><circle cx="2242.8" cy="710.7" r="8.2"/><circle cx="2253.9" cy="712.7" r="8.2"/><circle cx="2260.6" cy="712.5" r="8.2"/><circle cx="2267.5" cy="715.0" r="8.2"/><circle cx="2273.8" cy="705.0" r="8.2"/><circle cx="2283.2" cy="699.4" r="8.2"/><circle cx="2290.7" cy="719.1" r="8.2"/><circle cx="2301.0" cy="720.0" r="8.2"/><circle cx="2313.2" cy="706.9" r="8.2"/><circle cx="2319.7" cy="721.9" r="8.2"/><circle cx="2326.3" cy="714.4" r="8.2"/><circle cx="2334.7" cy="716.3" r="8.2"/><circle cx="2340.4" cy="721.0" r="8.2"/><circle cx="2352.6" cy="718.2" r="8.2"/><circle cx="2358.2" cy="710.7" r="8.2"/><circle cx="2367.6" cy="708.8" r="8.2"/><circle cx="2374.1" cy="720.0" r="8.2"/><circle cx="2380.7" cy="721.9" r="8.2"/><circle cx="2393.8" cy="718.2" r="8.2"/><circle cx="2399.5" cy="724.7" r="8.2"/><circle cx="2405.1" cy="712.5" r="8.2"/><circle cx="2415.4" cy="706.9" r="8.2"/><circle cx="2422.9" cy="713.5" r="8.2"/></g></g>
<g clip-path="url(#ax)"><path d="M214.6 749.4V751.4M235.1 748.3V750.4M243.9 748.6V750.7M249.8 747.9V750.1M256.2 748.1V750.3M263.3 747.8V750.1M272.1 747.2V749.6M284.0 745.8V748.5M292.6 747.7V750.0M305.7 748.3V750.4M316.8 748.6V750.7M323.9 747.3V749.7M329.5 746.6V749.2M335.0 747.8V750.1M345.9 745.9V748.6M359.4 747.4V749.8M371.7 746.4V749.0M379.6 746.6V749.2M385.2 746.0V748.7M391.9 745.7V748.4M397.7 747.0V749.5M409.2 745.0V747.9M419.4 746.8V749.3M426.2 746.4V749.0M435.2 747.5V749.9M446.3 745.4V748.2M456.9 744.9V747.8M466.3 744.5V747.4M475.6 743.9V746.9M488.0 740.8V744.7M499.1 741.1V745.0M503.2 741.9V745.6M509.6 740.4V744.3M522.5 738.8V743.0M529.0 742.2V745.9M540.1 737.6V742.0M550.7 739.5V743.6M562.4 737.9V742.2M570.6 736.2V740.8M576.5 735.5V740.2M583.5 735.1V739.8M589.4 735.3V740.0M596.4 734.1V739.0M602.5 731.3V736.5M608.4 729.5V734.9M614.8 730.9V736.2M619.4 732.7V737.8M630.5 730.2V735.6M640.1 725.3V731.3M647.5 725.7V731.6M655.9 728.6V734.2M661.2 722.9V728.5M667.5 720.8V727.3M672.8 719.8V726.3M679.1 718.4V725.1M685.4 714.1V721.2M690.7 716.7V723.5M697.0 710.5V718.3M704.4 711.7V719.1M711.8 717.2V724.0M719.2 714.3V721.3M727.6 712.4V719.6M734.0 710.8V718.2M740.0 709.0V716.5M746.4 708.6V716.2M752.3 708.9V716.5M760.2 709.2V716.7M764.3 701.6V708.6M770.6 694.8V703.9M777.0 699.4V707.8M784.3 699.1V707.5M791.7 700.1V708.4M800.2 697.4V705.9M805.4 698.2V706.7M811.8 692.8V701.7M819.2 692.9V700.3M825.3 684.2V691.8M830.6 685.0V694.4M836.9 682.4V690.4M843.2 665.9V677.3M852.5 680.5V691.4M861.2 676.2V687.0M870.8 690.6V699.6M876.0 686.5V695.9M882.3 682.0V691.7M888.6 682.9V692.4M897.0 679.3V689.1M903.4 685.7V695.1M909.7 686.4V695.7M919.2 680.4V691.0M925.5 676.1V685.5M930.8 668.0V678.6M939.2 667.5V678.1M945.6 671.0V681.4M950.8 664.4V675.3M957.2 666.3V677.0M963.5 672.5V682.8M969.8 664.4V675.3M975.1 666.6V677.3M980.6 656.1V667.4M989.1 651.3V664.9M996.5 665.0V675.8M1002.8 662.0V672.9M1012.3 665.7V676.4M1017.6 659.9V671.0M1022.8 662.8V674.7M1032.7 672.9V684.5M1042.0 672.1V682.5M1047.5 678.8V688.6M1055.5 656.0V668.4M1062.9 665.0V675.8M1069.2 658.2V669.4M1075.6 660.1V671.2M1081.9 661.8V672.8M1087.2 666.5V677.2M1093.5 666.3V677.0M1100.9 663.5V674.3M1105.1 658.6V669.8M1112.7 653.0V663.3M1119.0 657.7V669.0M1124.3 656.4V667.7M1130.8 666.7V678.3M1137.2 674.4V684.6M1144.6 679.1V689.0M1150.9 679.1V689.0M1156.2 676.4V686.5M1162.7 676.4V686.5M1169.9 671.2V681.6M1176.4 679.1V689.0M1182.7 682.0V691.6M1189.1 678.3V688.2M1194.3 675.2V685.3M1201.7 675.6V685.7M1208.1 685.2V694.3M1213.3 693.3V701.3M1221.8 682.8V692.8M1228.1 692.2V701.1M1235.5 695.2V703.9M1241.8 695.2V703.9M1248.1 693.2V702.0M1256.6 692.5V701.4M1259.7 690.6V699.7M1265.0 684.9V694.3M1272.4 687.7V697.0M1279.8 692.5V701.4M1286.1 694.5V703.3M1292.4 696.6V705.1M1298.0 699.8V708.1M1304.3 703.7V711.7M1310.6 703.2V711.2M1317.0 702.6V710.7M1323.3 704.4V712.3M1328.6 708.3V715.9M1337.0 706.6V714.3M1347.6 716.3V723.2M1354.9 709.0V716.5M1359.2 715.3V722.3M1367.6 714.4V721.5M1375.0 713.2V720.4M1382.4 714.4V721.5M1387.0 717.0V723.8M1393.3 716.8V723.6M1400.7 715.1V722.1M1409.1 715.1V722.1M1416.5 715.1V722.1M1422.8 714.6V721.6M1430.2 719.2V725.8M1439.7 720.1V726.6M1447.1 714.5V721.9M1452.4 719.7V726.6M1457.6 727.0V733.0M1465.0 724.6V730.9M1471.4 722.5V729.0M1478.7 719.2V726.1M1490.3 722.7V729.2M1497.7 723.0V729.5M1500.9 728.0V733.9M1510.0 724.9V731.2M1516.9 726.8V732.8M1523.2 724.5V730.9M1532.7 727.3V733.3M1540.1 725.9V732.1M1545.4 726.8V732.8M1555.9 726.1V732.2M1563.3 726.1V732.2M1570.7 725.6V731.8M1580.2 727.3V733.3M1586.5 728.9V734.7M1593.9 728.2V734.1M1601.3 730.4V736.1M1607.6 728.9V734.7M1613.9 731.8V737.3M1620.3 729.7V735.4M1626.6 729.9V735.6M1637.1 733.1V738.3M1641.4 731.8V737.3M1650.8 734.3V739.4M1660.3 735.3V740.3M1664.6 733.2V738.5M1676.2 737.8V742.4M1684.3 733.9V739.1M1691.6 733.9V739.1M1699.0 732.5V737.9M1707.5 733.0V738.3M1714.9 732.2V737.5M1728.6 735.9V740.7M1736.0 737.5V742.1M1751.8 730.7V737.1M1771.8 738.2V742.7M1780.3 739.6V743.9M1789.7 738.7V743.1M1803.5 738.0V742.5M1813.0 739.2V743.6M1819.3 742.8V746.5M1824.6 739.9V744.2M1833.0 739.4V743.7M1848.0 740.1V744.3M1852.7 736.2V741.0M1860.1 738.8V743.3M1870.6 740.2V744.4M1878.0 740.3V744.4M1884.3 741.2V745.2M1892.8 740.4V744.6M1902.3 743.0V746.7M1915.5 739.1V743.5M1922.3 737.1V741.8M1927.6 738.1V742.7M1938.1 738.8V743.3M1945.5 739.9V744.2M1953.4 738.5V743.0M1959.2 741.3V745.3M1967.7 740.6V744.7M1980.3 741.2V745.2M1990.9 740.3V744.4M1996.2 742.1V745.9M2005.7 743.5V747.1M2015.1 742.3V746.1M2021.5 739.1V744.0M2028.3 743.5V747.1M2036.2 741.3V745.3M2044.7 743.5V747.1M2053.7 740.3V744.4M2060.5 742.8V746.5M2073.2 742.1V745.9M2083.7 742.4V746.2M2093.0 744.1V747.6M2097.5 743.0V746.7M2105.2 742.1V746.0M2117.8 741.7V745.6M2132.4 743.9V747.4M2138.5 743.1V746.8M2146.9 742.5V746.3M2158.6 745.5V748.7M2164.7 744.7V748.0M2172.2 742.8V746.5M2182.6 743.9V747.4M2189.1 744.2V747.7M2199.5 743.6V747.2M2208.8 743.3V746.9M2220.1 744.9V748.2M2229.5 743.6V747.2M2237.0 746.0V749.1M2242.8 745.3V748.5M2253.9 745.7V748.8M2260.6 745.6V748.8M2267.5 746.1V749.1M2273.8 744.3V747.8M2283.2 743.3V747.1M2290.7 746.8V749.7M2301.0 746.9V749.8M2313.2 744.7V748.0M2319.7 747.3V750.0M2326.3 746.0V749.0M2334.7 746.3V749.3M2340.4 747.1V749.9M2352.6 746.6V749.6M2358.2 745.3V748.5M2367.6 745.0V748.3M2374.1 746.9V749.8M2380.7 747.3V750.0M2393.8 746.6V749.6M2399.5 747.8V750.4M2405.1 745.6V748.8M2415.4 744.5V748.1M2422.9 745.8V748.9" stroke="#808080" stroke-width="3" fill="none"/><path d="M207.8 749.4h13.7M207.8 751.4h13.7M228.2 748.3h13.7M228.2 750.4h13.7M237.1 748.6h13.7M237.1 750.7h13.7M243.0 747.9h13.7M243.0 750.1h13.7M249.3 748.1h13.7M249.3 750.3h13.7M256.4 747.8h13.7M256.4 750.1h13.7M265.2 747.2h13.7M265.2 749.6h13.7M277.1 745.8h13.7M277.1 748.5h13.7M285.8 747.7h13.7M285.8 750.0h13.7M298.8 748.3h13.7M298.8 750.4h13.7M309.9 748.6h13.7M309.9 750.7h13.7M317.0 747.3h13.7M317.0 749.7h13.7M322.6 746.6h13.7M322.6 749.2h13.7M328.1 747.8h13.7M328.1 750.1h13.7M339.0 745.9h13.7M339.0 748.6h13.7M352.5 747.4h13.7M352.5 749.8h13.7M364.8 746.4h13.7M364.8 749.0h13.7M372.8 746.6h13.7M372.8 749.2h13.7M378.3 746.0h13.7M378.3 748.7h13.7M385.0 745.7h13.7M385.0 748.4h13.7M390.8 747.0h13.7M390.8 749.5h13.7M402.3 745.0h13.7M402.3 747.9h13.7M412.5 746.8h13.7M412.5 749.3h13.7M419.3 746.4h13.7M419.3 749.0h13.7M428.3 747.5h13.7M428.3 749.9h13.7M439.4 745.4h13.7M439.4 748.2h13.7M450.0 744.9h13.7M450.0 747.8h13.7M459.4 744.5h13.7M459.4 747.4h13.7M468.8 743.9h13.7M468.8 746.9h13.7M481.1 740.8h13.7M481.1 744.7h13.7M492.2 741.1h13.7M492.2 745.0h13.7M496.3 741.9h13.7M496.3 745.6h13.7M502.8 740.4h13.7M502.8 744.3h13.7M515.6 738.8h13.7M515.6 743.0h13.7M522.1 742.2h13.7M522.1 745.9h13.7M533.2 737.6h13.7M533.2 742.0h13.7M543.9 739.5h13.7M543.9 743.6h13.7M555.5 737.9h13.7M555.5 742.2h13.7M563.8 736.2h13.7M563.8 740.8h13.7M569.6 735.5h13.7M569.6 740.2h13.7M576.6 735.1h13.7M576.6 739.8h13.7M582.5 735.3h13.7M582.5 740.0h13.7M589.5 734.1h13.7M589.5 739.0h13.7M595.6 731.3h13.7M595.6 736.5h13.7M601.5 729.5h13.7M601.5 734.9h13.7M607.9 730.9h13.7M607.9 736.2h13.7M612.5 732.7h13.7M612.5 737.8h13.7M623.6 730.2h13.7M623.6 735.6h13.7M633.2 725.3h13.7M633.2 731.3h13.7M640.6 725.7h13.7M640.6 731.6h13.7M649.0 728.6h13.7M649.0 734.2h13.7M654.4 722.9h13.7M654.4 728.5h13.7M660.6 720.8h13.7M660.6 727.3h13.7M665.9 719.8h13.7M665.9 726.3h13.7M672.2 718.4h13.7M672.2 725.1h13.7M678.5 714.1h13.7M678.5 721.2h13.7M683.9 716.7h13.7M683.9 723.5h13.7M690.1 710.5h13.7M690.1 718.3h13.7M697.5 711.7h13.7M697.5 719.1h13.7M704.9 717.2h13.7M704.9 724.0h13.7M712.4 714.3h13.7M712.4 721.3h13.7M720.8 712.4h13.7M720.8 719.6h13.7M727.1 710.8h13.7M727.1 718.2h13.7M733.1 709.0h13.7M733.1 716.5h13.7M739.5 708.6h13.7M739.5 716.2h13.7M745.4 708.9h13.7M745.4 716.5h13.7M753.4 709.2h13.7M753.4 716.7h13.7M757.4 701.6h13.7M757.4 708.6h13.7M763.8 694.8h13.7M763.8 703.9h13.7M770.1 699.4h13.7M770.1 707.8h13.7M777.4 699.1h13.7M777.4 707.5h13.7M784.9 700.1h13.7M784.9 708.4h13.7M793.4 697.4h13.7M793.4 705.9h13.7M798.5 698.2h13.7M798.5 706.7h13.7M804.9 692.8h13.7M804.9 701.7h13.7M812.4 692.9h13.7M812.4 700.3h13.7M818.4 684.2h13.7M818.4 691.8h13.7M823.8 685.0h13.7M823.8 694.4h13.7M830.0 682.4h13.7M830.0 690.4h13.7M836.4 665.9h13.7M836.4 677.3h13.7M845.6 680.5h13.7M845.6 691.4h13.7M854.4 676.2h13.7M854.4 687.0h13.7M863.9 690.6h13.7M863.9 699.6h13.7M869.1 686.5h13.7M869.1 695.9h13.7M875.4 682.0h13.7M875.4 691.7h13.7M881.8 682.9h13.7M881.8 692.4h13.7M890.1 679.3h13.7M890.1 689.1h13.7M896.5 685.7h13.7M896.5 695.1h13.7M902.9 686.4h13.7M902.9 695.7h13.7M912.4 680.4h13.7M912.4 691.0h13.7M918.6 676.1h13.7M918.6 685.5h13.7M923.9 668.0h13.7M923.9 678.6h13.7M932.4 667.5h13.7M932.4 678.1h13.7M938.8 671.0h13.7M938.8 681.4h13.7M943.9 664.4h13.7M943.9 675.3h13.7M950.4 666.3h13.7M950.4 677.0h13.7M956.6 672.5h13.7M956.6 682.8h13.7M962.9 664.4h13.7M962.9 675.3h13.7M968.2 666.6h13.7M968.2 677.3h13.7M973.8 656.1h13.7M973.8 667.4h13.7M982.2 651.3h13.7M982.2 664.9h13.7M989.6 665.0h13.7M989.6 675.8h13.7M995.9 662.0h13.7M995.9 672.9h13.7M1005.4 665.7h13.7M1005.4 676.4h13.7M1010.8 659.9h13.7M1010.8 671.0h13.7M1015.9 662.8h13.7M1015.9 674.7h13.7M1025.9 672.9h13.7M1025.9 684.5h13.7M1035.2 672.1h13.7M1035.2 682.5h13.7M1040.7 678.8h13.7M1040.7 688.6h13.7M1048.7 656.0h13.7M1048.7 668.4h13.7M1056.1 665.0h13.7M1056.1 675.8h13.7M1062.4 658.2h13.7M1062.4 669.4h13.7M1068.8 660.1h13.7M1068.8 671.2h13.7M1075.1 661.8h13.7M1075.1 672.8h13.7M1080.4 666.5h13.7M1080.4 677.2h13.7M1086.7 666.3h13.7M1086.7 677.0h13.7M1094.1 663.5h13.7M1094.1 674.3h13.7M1098.2 658.6h13.7M1098.2 669.8h13.7M1105.9 653.0h13.7M1105.9 663.3h13.7M1112.2 657.7h13.7M1112.2 669.0h13.7M1117.5 656.4h13.7M1117.5 667.7h13.7M1124.0 666.7h13.7M1124.0 678.3h13.7M1130.4 674.4h13.7M1130.4 684.6h13.7M1137.8 679.1h13.7M1137.8 689.0h13.7M1144.1 679.1h13.7M1144.1 689.0h13.7M1149.4 676.4h13.7M1149.4 686.5h13.7M1155.9 676.4h13.7M1155.9 686.5h13.7M1163.1 671.2h13.7M1163.1 681.6h13.7M1169.6 679.1h13.7M1169.6 689.0h13.7M1175.9 682.0h13.7M1175.9 691.6h13.7M1182.2 678.3h13.7M1182.2 688.2h13.7M1187.5 675.2h13.7M1187.5 685.3h13.7M1194.9 675.6h13.7M1194.9 685.7h13.7M1201.2 685.2h13.7M1201.2 694.3h13.7M1206.5 693.3h13.7M1206.5 701.3h13.7M1215.0 682.8h13.7M1215.0 692.8h13.7M1221.2 692.2h13.7M1221.2 701.1h13.7M1228.7 695.2h13.7M1228.7 703.9h13.7M1235.0 695.2h13.7M1235.0 703.9h13.7M1241.2 693.2h13.7M1241.2 702.0h13.7M1249.8 692.5h13.7M1249.8 701.4h13.7M1252.9 690.6h13.7M1252.9 699.7h13.7M1258.2 684.9h13.7M1258.2 694.3h13.7M1265.6 687.7h13.7M1265.6 697.0h13.7M1273.0 692.5h13.7M1273.0 701.4h13.7M1279.2 694.5h13.7M1279.2 703.3h13.7M1285.6 696.6h13.7M1285.6 705.1h13.7M1291.2 699.8h13.7M1291.2 708.1h13.7M1297.5 703.7h13.7M1297.5 711.7h13.7M1303.8 703.2h13.7M1303.8 711.2h13.7M1310.2 702.6h13.7M1310.2 710.7h13.7M1316.5 704.4h13.7M1316.5 712.3h13.7M1321.8 708.3h13.7M1321.8 715.9h13.7M1330.2 706.6h13.7M1330.2 714.3h13.7M1340.8 716.3h13.7M1340.8 723.2h13.7M1348.1 709.0h13.7M1348.1 716.5h13.7M1352.4 715.3h13.7M1352.4 722.3h13.7M1360.8 714.4h13.7M1360.8 721.5h13.7M1368.2 713.2h13.7M1368.2 720.4h13.7M1375.6 714.4h13.7M1375.6 721.5h13.7M1380.2 717.0h13.7M1380.2 723.8h13.7M1386.5 716.8h13.7M1386.5 723.6h13.7M1393.9 715.1h13.7M1393.9 722.1h13.7M1402.2 715.1h13.7M1402.2 722.1h13.7M1409.7 715.1h13.7M1409.7 722.1h13.7M1416.0 714.6h13.7M1416.0 721.6h13.7M1423.4 719.2h13.7M1423.4 725.8h13.7M1432.9 720.1h13.7M1432.9 726.6h13.7M1440.2 714.5h13.7M1440.2 721.9h13.7M1445.6 719.7h13.7M1445.6 726.6h13.7M1450.8 727.0h13.7M1450.8 733.0h13.7M1458.2 724.6h13.7M1458.2 730.9h13.7M1464.6 722.5h13.7M1464.6 729.0h13.7M1471.9 719.2h13.7M1471.9 726.1h13.7M1483.5 722.7h13.7M1483.5 729.2h13.7M1490.9 723.0h13.7M1490.9 729.5h13.7M1494.1 728.0h13.7M1494.1 733.9h13.7M1503.2 724.9h13.7M1503.2 731.2h13.7M1510.1 726.8h13.7M1510.1 732.8h13.7M1516.4 724.5h13.7M1516.4 730.9h13.7M1525.9 727.3h13.7M1525.9 733.3h13.7M1533.2 725.9h13.7M1533.2 732.1h13.7M1538.6 726.8h13.7M1538.6 732.8h13.7M1549.1 726.1h13.7M1549.1 732.2h13.7M1556.5 726.1h13.7M1556.5 732.2h13.7M1563.9 725.6h13.7M1563.9 731.8h13.7M1573.4 727.3h13.7M1573.4 733.3h13.7M1579.7 728.9h13.7M1579.7 734.7h13.7M1587.1 728.2h13.7M1587.1 734.1h13.7M1594.5 730.4h13.7M1594.5 736.1h13.7M1600.8 728.9h13.7M1600.8 734.7h13.7M1607.1 731.8h13.7M1607.1 737.3h13.7M1613.5 729.7h13.7M1613.5 735.4h13.7M1619.8 729.9h13.7M1619.8 735.6h13.7M1630.2 733.1h13.7M1630.2 738.3h13.7M1634.6 731.8h13.7M1634.6 737.3h13.7M1644.0 734.3h13.7M1644.0 739.4h13.7M1653.5 735.3h13.7M1653.5 740.3h13.7M1657.8 733.2h13.7M1657.8 738.5h13.7M1669.4 737.8h13.7M1669.4 742.4h13.7M1677.5 733.9h13.7M1677.5 739.1h13.7M1684.8 733.9h13.7M1684.8 739.1h13.7M1692.2 732.5h13.7M1692.2 737.9h13.7M1700.7 733.0h13.7M1700.7 738.3h13.7M1708.1 732.2h13.7M1708.1 737.5h13.7M1721.8 735.9h13.7M1721.8 740.7h13.7M1729.2 737.5h13.7M1729.2 742.1h13.7M1745.0 730.7h13.7M1745.0 737.1h13.7M1765.0 738.2h13.7M1765.0 742.7h13.7M1773.5 739.6h13.7M1773.5 743.9h13.7M1782.9 738.7h13.7M1782.9 743.1h13.7M1796.7 738.0h13.7M1796.7 742.5h13.7M1806.2 739.2h13.7M1806.2 743.6h13.7M1812.5 742.8h13.7M1812.5 746.5h13.7M1817.8 739.9h13.7M1817.8 744.2h13.7M1826.2 739.4h13.7M1826.2 743.7h13.7M1841.2 740.1h13.7M1841.2 744.3h13.7M1845.9 736.2h13.7M1845.9 741.0h13.7M1853.2 738.8h13.7M1853.2 743.3h13.7M1863.8 740.2h13.7M1863.8 744.4h13.7M1871.2 740.3h13.7M1871.2 744.4h13.7M1877.5 741.2h13.7M1877.5 745.2h13.7M1886.0 740.4h13.7M1886.0 744.6h13.7M1895.5 743.0h13.7M1895.5 746.7h13.7M1908.7 739.1h13.7M1908.7 743.5h13.7M1915.5 737.1h13.7M1915.5 741.8h13.7M1920.8 738.1h13.7M1920.8 742.7h13.7M1931.2 738.8h13.7M1931.2 743.3h13.7M1938.7 739.9h13.7M1938.7 744.2h13.7M1946.6 738.5h13.7M1946.6 743.0h13.7M1952.4 741.3h13.7M1952.4 745.3h13.7M1960.9 740.6h13.7M1960.9 744.7h13.7M1973.5 741.2h13.7M1973.5 745.2h13.7M1984.1 740.3h13.7M1984.1 744.4h13.7M1989.4 742.1h13.7M1989.4 745.9h13.7M1998.9 743.5h13.7M1998.9 747.1h13.7M2008.2 742.3h13.7M2008.2 746.1h13.7M2014.7 739.1h13.7M2014.7 744.0h13.7M2021.5 743.5h13.7M2021.5 747.1h13.7M2029.4 741.3h13.7M2029.4 745.3h13.7M2037.9 743.5h13.7M2037.9 747.1h13.7M2046.8 740.3h13.7M2046.8 744.4h13.7M2053.7 742.8h13.7M2053.7 746.5h13.7M2066.3 742.1h13.7M2066.3 745.9h13.7M2076.8 742.4h13.7M2076.8 746.2h13.7M2086.2 744.1h13.7M2086.2 747.6h13.7M2090.7 743.0h13.7M2090.7 746.7h13.7M2098.3 742.1h13.7M2098.3 746.0h13.7M2111.0 741.7h13.7M2111.0 745.6h13.7M2125.6 743.9h13.7M2125.6 747.4h13.7M2131.7 743.1h13.7M2131.7 746.8h13.7M2140.1 742.5h13.7M2140.1 746.3h13.7M2151.8 745.5h13.7M2151.8 748.7h13.7M2157.8 744.7h13.7M2157.8 748.0h13.7M2165.3 742.8h13.7M2165.3 746.5h13.7M2175.8 743.9h13.7M2175.8 747.4h13.7M2182.2 744.2h13.7M2182.2 747.7h13.7M2192.7 743.6h13.7M2192.7 747.2h13.7M2202.0 743.3h13.7M2202.0 746.9h13.7M2213.2 744.9h13.7M2213.2 748.2h13.7M2222.7 743.6h13.7M2222.7 747.2h13.7M2230.2 746.0h13.7M2230.2 749.1h13.7M2236.0 745.3h13.7M2236.0 748.5h13.7M2247.1 745.7h13.7M2247.1 748.8h13.7M2253.8 745.6h13.7M2253.8 748.8h13.7M2260.7 746.1h13.7M2260.7 749.1h13.7M2267.0 744.3h13.7M2267.0 747.8h13.7M2276.3 743.3h13.7M2276.3 747.1h13.7M2283.8 746.8h13.7M2283.8 749.7h13.7M2294.2 746.9h13.7M2294.2 749.8h13.7M2306.3 744.7h13.7M2306.3 748.0h13.7M2312.8 747.3h13.7M2312.8 750.0h13.7M2319.5 746.0h13.7M2319.5 749.0h13.7M2327.8 746.3h13.7M2327.8 749.3h13.7M2333.6 747.1h13.7M2333.6 749.9h13.7M2345.8 746.6h13.7M2345.8 749.6h13.7M2351.3 745.3h13.7M2351.3 748.5h13.7M2360.8 745.0h13.7M2360.8 748.3h13.7M2367.2 746.9h13.7M2367.2 749.8h13.7M2373.8 747.3h13.7M2373.8 750.0h13.7M2387.0 746.6h13.7M2387.0 749.6h13.7M2392.7 747.8h13.7M2392.7 750.4h13.7M2398.2 745.6h13.7M2398.2 748.8h13.7M2408.6 744.5h13.7M2408.6 748.1h13.7M2416.1 745.8h13.7M2416.1 748.9h13.7" stroke="#808080" stroke-width="2.2" fill="none"/><g fill="#808080"><circle cx="214.6" cy="750.6" r="8.2"/><circle cx="235.1" cy="749.5" r="8.2"/><circle cx="243.9" cy="749.8" r="8.2"/><circle cx="249.8" cy="749.1" r="8.2"/><circle cx="256.2" cy="749.3" r="8.2"/><circle cx="263.3" cy="749.0" r="8.2"/><circle cx="272.1" cy="748.5" r="8.2"/><circle cx="284.0" cy="747.3" r="8.2"/><circle cx="292.6" cy="748.9" r="8.2"/><circle cx="305.7" cy="749.5" r="8.2"/><circle cx="316.8" cy="749.8" r="8.2"/><circle cx="323.9" cy="748.7" r="8.2"/><circle cx="329.5" cy="748.0" r="8.2"/><circle cx="335.0" cy="749.0" r="8.2"/><circle cx="345.9" cy="747.4" r="8.2"/><circle cx="359.4" cy="748.7" r="8.2"/><circle cx="371.7" cy="747.9" r="8.2"/><circle cx="379.6" cy="748.0" r="8.2"/><circle cx="385.2" cy="747.5" r="8.2"/><circle cx="391.9" cy="747.2" r="8.2"/><circle cx="397.7" cy="748.4" r="8.2"/><circle cx="409.2" cy="746.6" r="8.2"/><circle cx="419.4" cy="748.2" r="8.2"/><circle cx="426.2" cy="747.9" r="8.2"/><circle cx="435.2" cy="748.8" r="8.2"/><circle cx="446.3" cy="746.9" r="8.2"/><circle cx="456.9" cy="746.5" r="8.2"/><circle cx="466.3" cy="746.1" r="8.2"/><circle cx="475.6" cy="745.6" r="8.2"/><circle cx="488.0" cy="742.9" r="8.2"/><circle cx="499.1" cy="743.2" r="8.2"/><circle cx="503.2" cy="743.9" r="8.2"/><circle cx="509.6" cy="742.5" r="8.2"/><circle cx="522.5" cy="741.0" r="8.2"/><circle cx="529.0" cy="744.2" r="8.2"/><circle cx="540.1" cy="739.9" r="8.2"/><circle cx="550.7" cy="741.7" r="8.2"/><circle cx="562.4" cy="740.2" r="8.2"/><circle cx="570.6" cy="738.6" r="8.2"/><circle cx="576.5" cy="738.0" r="8.2"/><circle cx="583.5" cy="737.6" r="8.2"/><circle cx="589.4" cy="737.8" r="8.2"/><circle cx="596.4" cy="736.7" r="8.2"/><circle cx="602.5" cy="734.1" r="8.2"/><circle cx="608.4" cy="732.4" r="8.2"/><circle cx="614.8" cy="733.7" r="8.2"/><circle cx="619.4" cy="735.4" r="8.2"/><circle cx="630.5" cy="733.0" r="8.2"/><circle cx="640.1" cy="728.4" r="8.2"/><circle cx="647.5" cy="728.8" r="8.2"/><circle cx="655.9" cy="731.5" r="8.2"/><circle cx="661.2" cy="725.8" r="8.2"/><circle cx="667.5" cy="724.2" r="8.2"/><circle cx="672.8" cy="723.2" r="8.2"/><circle cx="679.1" cy="721.9" r="8.2"/><circle cx="685.4" cy="717.8" r="8.2"/><circle cx="690.7" cy="720.3" r="8.2"/><circle cx="697.0" cy="714.6" r="8.2"/><circle cx="704.4" cy="715.5" r="8.2"/><circle cx="711.8" cy="720.8" r="8.2"/><circle cx="719.2" cy="718.0" r="8.2"/><circle cx="727.6" cy="716.2" r="8.2"/><circle cx="734.0" cy="714.6" r="8.2"/><circle cx="740.0" cy="712.9" r="8.2"/><circle cx="746.4" cy="712.6" r="8.2"/><circle cx="752.3" cy="712.8" r="8.2"/><circle cx="760.2" cy="713.1" r="8.2"/><circle cx="764.3" cy="705.2" r="8.2"/><circle cx="770.6" cy="699.5" r="8.2"/><circle cx="777.0" cy="703.7" r="8.2"/><circle cx="784.3" cy="703.4" r="8.2"/><circle cx="791.7" cy="704.4" r="8.2"/><circle cx="800.2" cy="701.8" r="8.2"/><circle cx="805.4" cy="702.6" r="8.2"/><circle cx="811.8" cy="697.4" r="8.2"/><circle cx="819.2" cy="696.7" r="8.2"/><circle cx="825.3" cy="688.1" r="8.2"/><circle cx="830.6" cy="689.9" r="8.2"/><circle cx="836.9" cy="686.5" r="8.2"/><circle cx="843.2" cy="671.8" r="8.2"/><circle cx="852.5" cy="686.1" r="8.2"/><circle cx="861.2" cy="681.7" r="8.2"/><circle cx="870.8" cy="695.3" r="8.2"/><circle cx="876.0" cy="691.4" r="8.2"/><circle cx="882.3" cy="687.0" r="8.2"/><circle cx="888.6" cy="687.8" r="8.2"/><circle cx="897.0" cy="684.4" r="8.2"/><circle cx="903.4" cy="690.6" r="8.2"/><circle cx="909.7" cy="691.2" r="8.2"/><circle cx="919.2" cy="685.8" r="8.2"/><circle cx="925.5" cy="680.9" r="8.2"/><circle cx="930.8" cy="673.4" r="8.2"/><circle cx="939.2" cy="672.9" r="8.2"/><circle cx="945.6" cy="676.4" r="8.2"/><circle cx="950.8" cy="670.0" r="8.2"/><circle cx="957.2" cy="671.8" r="8.2"/><circle cx="963.5" cy="677.8" r="8.2"/><circle cx="969.8" cy="670.0" r="8.2"/><circle cx="975.1" cy="672.1" r="8.2"/><circle cx="980.6" cy="661.9" r="8.2"/><circle cx="989.1" cy="658.3" r="8.2"/><circle cx="996.5" cy="670.5" r="8.2"/><circle cx="1002.8" cy="667.6" r="8.2"/><circle cx="1012.3" cy="671.2" r="8.2"/><circle cx="1017.6" cy="665.6" r="8.2"/><circle cx="1022.8" cy="668.9" r="8.2"/><circle cx="1032.7" cy="678.8" r="8.2"/><circle cx="1042.0" cy="677.4" r="8.2"/><circle cx="1047.5" cy="683.9" r="8.2"/><circle cx="1055.5" cy="662.3" r="8.2"/><circle cx="1062.9" cy="670.5" r="8.2"/><circle cx="1069.2" cy="664.0" r="8.2"/><circle cx="1075.6" cy="665.8" r="8.2"/><circle cx="1081.9" cy="667.4" r="8.2"/><circle cx="1087.2" cy="672.0" r="8.2"/><circle cx="1093.5" cy="671.8" r="8.2"/><circle cx="1100.9" cy="669.1" r="8.2"/><circle cx="1105.1" cy="664.3" r="8.2"/><circle cx="1112.7" cy="658.3" r="8.2"/><circle cx="1119.0" cy="663.5" r="8.2"/><circle cx="1124.3" cy="662.2" r="8.2"/><circle cx="1130.8" cy="672.6" r="8.2"/><circle cx="1137.2" cy="679.6" r="8.2"/><circle cx="1144.6" cy="684.2" r="8.2"/><circle cx="1150.9" cy="684.2" r="8.2"/><circle cx="1156.2" cy="681.6" r="8.2"/><circle cx="1162.7" cy="681.6" r="8.2"/><circle cx="1169.9" cy="676.5" r="8.2"/><circle cx="1176.4" cy="684.2" r="8.2"/><circle cx="1182.7" cy="687.0" r="8.2"/><circle cx="1189.1" cy="683.4" r="8.2"/><circle cx="1194.3" cy="680.4" r="8.2"/><circle cx="1201.7" cy="680.8" r="8.2"/><circle cx="1208.1" cy="689.9" r="8.2"/><circle cx="1213.3" cy="697.4" r="8.2"/><circle cx="1221.8" cy="687.9" r="8.2"/><circle cx="1228.1" cy="696.8" r="8.2"/><circle cx="1235.5" cy="699.7" r="8.2"/><circle cx="1241.8" cy="699.7" r="8.2"/><circle cx="1248.1" cy="697.7" r="8.2"/><circle cx="1256.6" cy="697.1" r="8.2"/><circle cx="1259.7" cy="695.3" r="8.2"/><circle cx="1265.0" cy="689.7" r="8.2"/><circle cx="1272.4" cy="692.5" r="8.2"/><circle cx="1279.8" cy="697.1" r="8.2"/><circle cx="1286.1" cy="699.0" r="8.2"/><circle cx="1292.4" cy="701.0" r="8.2"/><circle cx="1298.0" cy="704.1" r="8.2"/><circle cx="1304.3" cy="707.8" r="8.2"/><circle cx="1310.6" cy="707.3" r="8.2"/><circle cx="1317.0" cy="706.8" r="8.2"/><circle cx="1323.3" cy="708.5" r="8.2"/><circle cx="1328.6" cy="712.2" r="8.2"/><circle cx="1337.0" cy="710.6" r="8.2"/><circle cx="1347.6" cy="719.9" r="8.2"/><circle cx="1354.9" cy="712.9" r="8.2"/><circle cx="1359.2" cy="718.9" r="8.2"/><circle cx="1367.6" cy="718.1" r="8.2"/><circle cx="1375.0" cy="717.0" r="8.2"/><circle cx="1382.4" cy="718.1" r="8.2"/><circle cx="1387.0" cy="720.5" r="8.2"/><circle cx="1393.3" cy="720.4" r="8.2"/><circle cx="1400.7" cy="718.7" r="8.2"/><circle cx="1409.1" cy="718.7" r="8.2"/><circle cx="1416.5" cy="718.7" r="8.2"/><circle cx="1422.8" cy="718.2" r="8.2"/><circle cx="1430.2" cy="722.6" r="8.2"/><circle cx="1439.7" cy="723.5" r="8.2"/><circle cx="1447.1" cy="718.4" r="8.2"/><circle cx="1452.4" cy="723.3" r="8.2"/><circle cx="1457.6" cy="730.2" r="8.2"/><circle cx="1465.0" cy="727.9" r="8.2"/><circle cx="1471.4" cy="725.9" r="8.2"/><circle cx="1478.7" cy="722.8" r="8.2"/><circle cx="1490.3" cy="726.1" r="8.2"/><circle cx="1497.7" cy="726.4" r="8.2"/><circle cx="1500.9" cy="731.1" r="8.2"/><circle cx="1510.0" cy="728.2" r="8.2"/><circle cx="1516.9" cy="730.0" r="8.2"/><circle cx="1523.2" cy="727.8" r="8.2"/><circle cx="1532.7" cy="730.5" r="8.2"/><circle cx="1540.1" cy="729.2" r="8.2"/><circle cx="1545.4" cy="730.0" r="8.2"/><circle cx="1555.9" cy="729.3" r="8.2"/><circle cx="1563.3" cy="729.3" r="8.2"/><circle cx="1570.7" cy="728.8" r="8.2"/><circle cx="1580.2" cy="730.5" r="8.2"/><circle cx="1586.5" cy="731.9" r="8.2"/><circle cx="1593.9" cy="731.3" r="8.2"/><circle cx="1601.3" cy="733.4" r="8.2"/><circle cx="1607.6" cy="731.9" r="8.2"/><circle cx="1613.9" cy="734.7" r="8.2"/><circle cx="1620.3" cy="732.8" r="8.2"/><circle cx="1626.6" cy="732.9" r="8.2"/><circle cx="1637.1" cy="735.8" r="8.2"/><circle cx="1641.4" cy="734.7" r="8.2"/><circle cx="1650.8" cy="737.0" r="8.2"/><circle cx="1660.3" cy="738.0" r="8.2"/><circle cx="1664.6" cy="736.0" r="8.2"/><circle cx="1676.2" cy="740.3" r="8.2"/><circle cx="1684.3" cy="736.7" r="8.2"/><circle cx="1691.6" cy="736.7" r="8.2"/><circle cx="1699.0" cy="735.4" r="8.2"/><circle cx="1707.5" cy="735.8" r="8.2"/><circle cx="1714.9" cy="735.0" r="8.2"/><circle cx="1728.6" cy="738.4" r="8.2"/><circle cx="1736.0" cy="739.9" r="8.2"/><circle cx="1751.8" cy="734.1" r="8.2"/><circle cx="1771.8" cy="740.6" r="8.2"/><circle cx="1780.3" cy="741.9" r="8.2"/><circle cx="1789.7" cy="741.1" r="8.2"/><circle cx="1803.5" cy="740.4" r="8.2"/><circle cx="1813.0" cy="741.5" r="8.2"/><circle cx="1819.3" cy="744.8" r="8.2"/><circle cx="1824.6" cy="742.2" r="8.2"/><circle cx="1833.0" cy="741.7" r="8.2"/><circle cx="1848.0" cy="742.3" r="8.2"/><circle cx="1852.7" cy="738.8" r="8.2"/><circle cx="1860.1" cy="741.2" r="8.2"/><circle cx="1870.6" cy="742.4" r="8.2"/><circle cx="1878.0" cy="742.5" r="8.2"/><circle cx="1884.3" cy="743.3" r="8.2"/><circle cx="1892.8" cy="742.7" r="8.2"/><circle cx="1902.3" cy="745.0" r="8.2"/><circle cx="1915.5" cy="741.5" r="8.2"/><circle cx="1922.3" cy="739.6" r="8.2"/><circle cx="1927.6" cy="740.6" r="8.2"/><circle cx="1938.1" cy="741.2" r="8.2"/><circle cx="1945.5" cy="742.2" r="8.2"/><circle cx="1953.4" cy="740.9" r="8.2"/><circle cx="1959.2" cy="743.5" r="8.2"/><circle cx="1967.7" cy="742.8" r="8.2"/><circle cx="1980.3" cy="743.3" r="8.2"/><circle cx="1990.9" cy="742.5" r="8.2"/><circle cx="1996.2" cy="744.1" r="8.2"/><circle cx="2005.7" cy="745.5" r="8.2"/><circle cx="2015.1" cy="744.3" r="8.2"/><circle cx="2021.5" cy="741.7" r="8.2"/><circle cx="2028.3" cy="745.5" r="8.2"/><circle cx="2036.2" cy="743.5" r="8.2"/><circle cx="2044.7" cy="745.5" r="8.2"/><circle cx="2053.7" cy="742.5" r="8.2"/><circle cx="2060.5" cy="744.8" r="8.2"/><circle cx="2073.2" cy="744.1" r="8.2"/><circle cx="2083.7" cy="744.5" r="8.2"/><circle cx="2093.0" cy="746.0" r="8.2"/><circle cx="2097.5" cy="745.0" r="8.2"/><circle cx="2105.2" cy="744.2" r="8.2"/><circle cx="2117.8" cy="743.8" r="8.2"/><circle cx="2132.4" cy="745.8" r="8.2"/><circle cx="2138.5" cy="745.1" r="8.2"/><circle cx="2146.9" cy="744.5" r="8.2"/><circle cx="2158.6" cy="747.3" r="8.2"/><circle cx="2164.7" cy="746.5" r="8.2"/><circle cx="2172.2" cy="744.8" r="8.2"/><circle cx="2182.6" cy="745.8" r="8.2"/><circle cx="2189.1" cy="746.1" r="8.2"/><circle cx="2199.5" cy="745.5" r="8.2"/><circle cx="2208.8" cy="745.2" r="8.2"/><circle cx="2220.1" cy="746.7" r="8.2"/><circle cx="2229.5" cy="745.5" r="8.2"/><circle cx="2237.0" cy="747.7" r="8.2"/><circle cx="2242.8" cy="747.1" r="8.2"/><circle cx="2253.9" cy="747.4" r="8.2"/><circle cx="2260.6" cy="747.4" r="8.2"/><circle cx="2267.5" cy="747.8" r="8.2"/><circle cx="2273.8" cy="746.2" r="8.2"/><circle cx="2283.2" cy="745.3" r="8.2"/><circle cx="2290.7" cy="748.4" r="8.2"/><circle cx="2301.0" cy="748.5" r="8.2"/><circle cx="2313.2" cy="746.5" r="8.2"/><circle cx="2319.7" cy="748.8" r="8.2"/><circle cx="2326.3" cy="747.7" r="8.2"/><circle cx="2334.7" cy="748.0" r="8.2"/><circle cx="2340.4" cy="748.7" r="8.2"/><circle cx="2352.6" cy="748.2" r="8.2"/><circle cx="2358.2" cy="747.1" r="8.2"/><circle cx="2367.6" cy="746.8" r="8.2"/><circle cx="2374.1" cy="748.5" r="8.2"/><circle cx="2380.7" cy="748.8" r="8.2"/><circle cx="2393.8" cy="748.2" r="8.2"/><circle cx="2399.5" cy="749.3" r="8.2"/><circle cx="2405.1" cy="747.4" r="8.2"/><circle cx="2415.4" cy="746.5" r="8.2"/><circle cx="2422.9" cy="747.5" r="8.2"/></g></g>
<rect x="115.83" y="60.43" width="2308.0" height="693.32" fill="none" stroke="#000" stroke-width="2.1"/>
<path d="M190.28 753.75v8.3M562.54 753.75v8.3M934.80 753.75v8.3M1307.06 753.75v8.3M1679.32 753.75v8.3M2051.58 753.75v8.3M2423.84 753.75v8.3M115.83 753.75h-8.5M2423.83 753.75h8.3M115.83 628.85h-8.5M2423.83 628.85h8.3M115.83 503.95h-8.5M2423.83 503.95h8.3M115.83 379.06h-8.5M2423.83 379.06h8.3M115.83 254.16h-8.5M2423.83 254.16h8.3M115.83 129.26h-8.5M2423.83 129.26h8.3" stroke="#000" stroke-width="1.9" fill="none"/>
<text x="190.28" y="787.5" font-family='"Liberation Sans", sans-serif' font-size="25.0" text-anchor="middle" textLength="43.2" lengthAdjust="spacingAndGlyphs">115</text>
<text x="562.54" y="787.5" font-family='"Liberation Sans", sans-serif' font-size="25.0" text-anchor="middle" textLength="43.2" lengthAdjust="spacingAndGlyphs">120</text>
<text x="934.80" y="787.5" font-family='"Liberation Sans", sans-serif' font-size="25.0" text-anchor="middle" textLength="43.2" lengthAdjust="spacingAndGlyphs">125</text>
<text x="1307.06" y="787.5" font-family='"Liberation Sans", sans-serif' font-size="25.0" text-anchor="middle" textLength="43.2" lengthAdjust="spacingAndGlyphs">130</text>
<text x="1679.32" y="787.5" font-family='"Liberation Sans", sans-serif' font-size="25.0" text-anchor="middle" textLength="43.2" lengthAdjust="spacingAndGlyphs">135</text>
<text x="2051.58" y="787.5" font-family='"Liberation Sans", sans-serif' font-size="25.0" text-anchor="middle" textLength="43.2" lengthAdjust="spacingAndGlyphs">140</text>
<text x="2423.84" y="787.5" font-family='"Liberation Sans", sans-serif' font-size="25.0" text-anchor="middle" textLength="43.2" lengthAdjust="spacingAndGlyphs">145</text>
<text x="97.6" y="761.95" font-family='"Liberation Sans", sans-serif' font-size="25.0" text-anchor="end" textLength="13.2" lengthAdjust="spacingAndGlyphs">0</text>
<text x="97.6" y="637.05" font-family='"Liberation Sans", sans-serif' font-size="25.0" text-anchor="end" textLength="13.2" lengthAdjust="spacingAndGlyphs">2</text>
<text x="97.6" y="512.15" font-family='"Liberation Sans", sans-serif' font-size="25.0" text-anchor="end" textLength="13.2" lengthAdjust="spacingAndGlyphs">4</text>
<text x="97.6" y="387.26" font-family='"Liberation Sans", sans-serif' font-size="25.0" text-anchor="end" textLength="13.2" lengthAdjust="spacingAndGlyphs">6</text>
<text x="97.6" y="262.36" font-family='"Liberation Sans", sans-serif' font-size="25.0" text-anchor="end" textLength="13.2" lengthAdjust="spacingAndGlyphs">8</text>
<text x="97.6" y="137.46" font-family='"Liberation Sans", sans-serif' font-size="25.0" text-anchor="end" textLength="27.5" lengthAdjust="spacingAndGlyphs">10</text>
<text x="2441.5" y="761.95" font-family='"Liberation Sans", sans-serif' font-size="25.0" textLength="37.5" lengthAdjust="spacingAndGlyphs">0.0</text>
<text x="2441.5" y="637.05" font-family='"Liberation Sans", sans-serif' font-size="25.0" textLength="37.5" lengthAdjust="spacingAndGlyphs">5.5</text>
<text x="2441.5" y="512.15" font-family='"Liberation Sans", sans-serif' font-size="25.0" textLength="50.5" lengthAdjust="spacingAndGlyphs">10.9</text>
<text x="2441.5" y="387.26" font-family='"Liberation Sans", sans-serif' font-size="25.0" textLength="50.5" lengthAdjust="spacingAndGlyphs">16.4</text>
<text x="2441.5" y="262.36" font-family='"Liberation Sans", sans-serif' font-size="25.0" textLength="50.5" lengthAdjust="spacingAndGlyphs">21.8</text>
<text x="2441.5" y="137.46" font-family='"Liberation Sans", sans-serif' font-size="25.0" textLength="50.5" lengthAdjust="spacingAndGlyphs">27.3</text>
<text x="848" y="46.2" font-family='"Liberation Sans", sans-serif' font-size="31.8" textLength="841.5" lengthAdjust="spacingAndGlyphs">Southern delta Aquariids, v = 41.3 km/s, s = 1.90, r = 2.30</text>
<text x="1144.5" y="820.3" font-family='"Liberation Sans", sans-serif' font-size="24" textLength="249" lengthAdjust="spacingAndGlyphs">Solar longitude (deg)</text>
<text transform="translate(53.0 606.7) rotate(-90)" font-family='"Liberation Sans", sans-serif' font-size="24.5" textLength="400.5" lengthAdjust="spacingAndGlyphs">Flux (meteoroids / 1000 · km<tspan font-size="16" dy="-9">2</tspan><tspan dy="9"> · h)</tspan></text>
<text transform="translate(2520.0 482.3) rotate(-90)" font-family='"Liberation Sans", sans-serif' font-size="24" textLength="155" lengthAdjust="spacingAndGlyphs">ZHR at +6.5<tspan font-size="16" dy="-9">M</tspan></text>
<rect x="2016.9" y="72.2" width="395.2999999999997" height="141.2" rx="4" fill="#fff" fill-opacity="0.8" stroke="#cccccc" stroke-width="1.9"/>
<path d="M2049.9 97.5V121.5" stroke="#000" stroke-width="3"/><path d="M2043.0500000000002 97.5h13.7M2043.0500000000002 121.5h13.7" stroke="#000" stroke-width="2.2"/><circle cx="2049.9" cy="109.5" r="8.2" fill="#000"/>
<path d="M2049.9 165.0V189.0" stroke="#808080" stroke-width="3"/><path d="M2043.0500000000002 165.0h13.7M2043.0500000000002 189.0h13.7" stroke="#808080" stroke-width="2.2"/><circle cx="2049.9" cy="177.0" r="8.2" fill="#808080"/>
<text x="2093.5" y="99.8" font-family='"Liberation Sans", sans-serif' font-size="24" textLength="305" lengthAdjust="spacingAndGlyphs">Weighted average flux at:</text>
<text x="2093.5" y="166.5" font-family='"Liberation Sans", sans-serif' font-size="24" textLength="202" lengthAdjust="spacingAndGlyphs">Flux (1/6.46x) at:</text>
<text x="2093.9" y="130.1" font-family='"Liberation Sans", sans-serif' font-size="24" textLength="31.2" lengthAdjust="spacingAndGlyphs">LM</text>
<text x="2135.1" y="130.1" font-family='"Liberation Sans", sans-serif' font-size="24" textLength="17.1" lengthAdjust="spacingAndGlyphs">=</text>
<text x="2162.8" y="130.1" font-family='"Liberation Sans", sans-serif' font-size="24" textLength="55.1" lengthAdjust="spacingAndGlyphs">+6.5</text>
<text x="2219.5" y="121.8" font-family='"Liberation Sans", sans-serif' font-size="16.2" textLength="13.3" lengthAdjust="spacingAndGlyphs">M</text>
<text x="2234.4" y="130.1" font-family='"Liberation Sans", sans-serif' font-size="24" textLength="6.1" lengthAdjust="spacingAndGlyphs">,</text>
<text x="2249.8" y="130.1" font-family='"Liberation Sans", sans-serif' font-size="24" textLength="19.7" lengthAdjust="spacingAndGlyphs">(9</text>
<text x="2280.2" y="130.1" font-family='"Liberation Sans", sans-serif' font-size="24" textLength="14.4" lengthAdjust="spacingAndGlyphs">×</text>
<text x="2304.0" y="130.1" font-family='"Liberation Sans", sans-serif' font-size="24" textLength="28.0" lengthAdjust="spacingAndGlyphs">10</text>
<text x="2334.2" y="121.8" font-family='"Liberation Sans", sans-serif' font-size="16.2" textLength="22.3" lengthAdjust="spacingAndGlyphs">−5</text>
<text x="2365.8" y="130.1" font-family='"Liberation Sans", sans-serif' font-size="24" textLength="22.3" lengthAdjust="spacingAndGlyphs">g)</text>
<text x="2093.9" y="196.8" font-family='"Liberation Sans", sans-serif' font-size="24" textLength="31.2" lengthAdjust="spacingAndGlyphs">LM</text>
<text x="2135.1" y="196.8" font-family='"Liberation Sans", sans-serif' font-size="24" textLength="17.1" lengthAdjust="spacingAndGlyphs">=</text>
<text x="2162.8" y="196.8" font-family='"Liberation Sans", sans-serif' font-size="24" textLength="69.3" lengthAdjust="spacingAndGlyphs">+4.26</text>
<text x="2233.7" y="188.5" font-family='"Liberation Sans", sans-serif' font-size="16.2" textLength="13.2" lengthAdjust="spacingAndGlyphs">M</text>
<text x="2247.9" y="196.8" font-family='"Liberation Sans", sans-serif' font-size="24" textLength="6.1" lengthAdjust="spacingAndGlyphs">,</text>
<text x="2264.0" y="196.8" font-family='"Liberation Sans", sans-serif' font-size="24" textLength="22.9" lengthAdjust="spacingAndGlyphs">(9</text>
<text x="2295.0" y="196.8" font-family='"Liberation Sans", sans-serif' font-size="24" textLength="14.4" lengthAdjust="spacingAndGlyphs">×</text>
<text x="2318.2" y="196.8" font-family='"Liberation Sans", sans-serif' font-size="24" textLength="26.7" lengthAdjust="spacingAndGlyphs">10</text>
<text x="2347.8" y="188.5" font-family='"Liberation Sans", sans-serif' font-size="16.2" textLength="22.2" lengthAdjust="spacingAndGlyphs">−4</text>
<text x="2379.4" y="196.8" font-family='"Liberation Sans", sans-serif' font-size="24" textLength="22.9" lengthAdjust="spacingAndGlyphs">g)</text>
</svg></body></html>
